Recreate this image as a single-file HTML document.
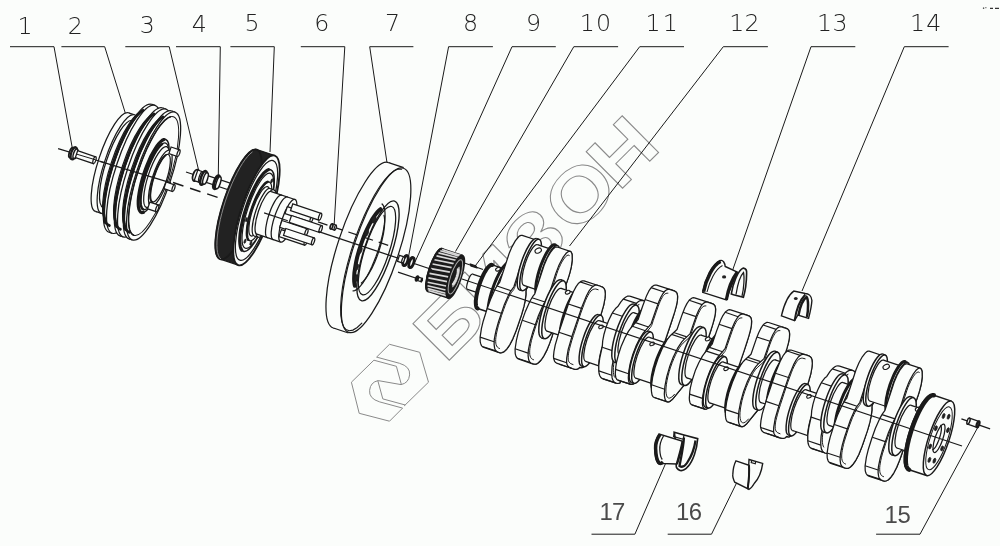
<!DOCTYPE html>
<html><head><meta charset="utf-8"><title>17</title>
<style>
html,body{margin:0;padding:0;background:#fbfdfb;}
body{width:1000px;height:546px;overflow:hidden;position:relative;}
svg{position:absolute;left:0;top:0;display:block;}
text{font-family:"Liberation Sans",sans-serif;}
.lb{font-family:"DejaVu Sans","Liberation Sans",sans-serif;font-weight:200;font-size:23.7px;fill:#222;}
.lb2{font-family:"Liberation Sans",sans-serif;font-size:23.9px;fill:#4a4a4a;}
.wm{font-family:"Liberation Sans",sans-serif;font-weight:bold;fill:none;stroke:#8a8a8a;stroke-width:1;}
</style></head><body>
<svg width="1000" height="546" viewBox="0 0 1000 546" style="opacity:0.999">
<rect width="1000" height="546" fill="#fbfdfb"/>
<text class="wm" transform="translate(449.8,359.7) rotate(-44.8) scale(1.15,1)" x="-5.5 48.4 102.3 152.5 206.6" y="0" font-size="75">БИЗОН</text>
<path d="M376.6 357.1 L389.5 344.3 L419.7 352.3 L428.5 382.2 L404.1 406.0" fill="none" stroke="#8a8a8a" stroke-width="1.0" stroke-linejoin="round"/>
<path d="M402.6 408.1 L389.5 421.2 L359.2 413.3 L351.4 382.2 L373.9 360.2" fill="none" stroke="#8a8a8a" stroke-width="1.0" stroke-linejoin="round"/>
<path d="M376.6 357.1 L399.5 363.3 Q410.5 366.6 409.6 374.9 Q408.7 383.1 401.0 384.6" fill="none" stroke="#8a8a8a" stroke-width="1.0" />
<path d="M373.9 360.2 L396.4 366.3 L401.4 384.6" fill="none" stroke="#8a8a8a" stroke-width="1.0" />
<path d="M402.6 408.1 L379.7 401.9 Q368.7 398.6 369.6 390.3 Q370.5 382.1 378.2 380.6" fill="none" stroke="#8a8a8a" stroke-width="1.0" />
<path d="M405.3 405.0 L382.8 398.9 L377.8 380.6" fill="none" stroke="#8a8a8a" stroke-width="1.0" />
<path d="M401.0 384.6 L378.2 380.6" fill="none" stroke="#8a8a8a" stroke-width="1.0" />
<defs><filter id="gs" x="0" y="0" width="100%" height="100%" filterUnits="userSpaceOnUse" color-interpolation-filters="sRGB"><feColorMatrix type="saturate" values="0"/></filter></defs>
<g filter="url(#gs)">
<text class="lb" x="17.4" y="34">1</text>
<path d="M10 46.7 L54 46.7 L73 152" fill="none" stroke="#1a1a1a" stroke-width="1.0" />
<text class="lb" x="67.8" y="33.5">2</text>
<path d="M61.4 46.7 L104.7 46.7 L125.3 113" fill="none" stroke="#1a1a1a" stroke-width="1.0" />
<text class="lb" x="139.8" y="32.5">3</text>
<path d="M125.3 46.7 L169.2 46.7 L198.8 171" fill="none" stroke="#1a1a1a" stroke-width="1.0" />
<text class="lb" x="191.8" y="31.5">4</text>
<path d="M176 46.7 L220.3 46.7 L218.2 181" fill="none" stroke="#1a1a1a" stroke-width="1.0" />
<text class="lb" x="244.5" y="31.2">5</text>
<path d="M230.4 46.7 L274.3 46.7 L270 152" fill="none" stroke="#1a1a1a" stroke-width="1.0" />
<text class="lb" x="314.2" y="31">6</text>
<path d="M300.8 46.7 L344.8 46.7 L334.2 224" fill="none" stroke="#1a1a1a" stroke-width="1.0" />
<text class="lb" x="385.0" y="30.8">7</text>
<path d="M413.4 46.7 L369.7 46.7 L387.2 164" fill="none" stroke="#1a1a1a" stroke-width="1.0" />
<text class="lb" x="463.0" y="30.8">8</text>
<path d="M492.9 46.7 L448.6 46.7 L407.2 263.6" fill="none" stroke="#1a1a1a" stroke-width="1.0" />
<text class="lb" x="526.0" y="30.8">9</text>
<path d="M555.8 46.7 L512 46.7 L413.8 264.6" fill="none" stroke="#1a1a1a" stroke-width="1.0" />
<text class="lb" x="579.7 595.9" y="30.8">10</text>
<path d="M618.1 46.7 L573.8 46.7 L455.5 251.5" fill="none" stroke="#1a1a1a" stroke-width="1.0" />
<text class="lb" x="645.6 662.7" y="30.8">11</text>
<path d="M684 46.7 L639.7 46.7 L474.7 266.6" fill="none" stroke="#1a1a1a" stroke-width="1.0" />
<text class="lb" x="729.3 744.5" y="31">12</text>
<path d="M767.9 46.7 L723.3 46.7 L569.5 246" fill="none" stroke="#1a1a1a" stroke-width="1.0" />
<text class="lb" x="816.9 832.4" y="31">13</text>
<path d="M855.3 46.7 L811 46.7 L732.5 270.5" fill="none" stroke="#1a1a1a" stroke-width="1.0" />
<text class="lb" x="910.0 926.2" y="31">14</text>
<path d="M948.6 46.7 L904.3 46.7 L802 291" fill="none" stroke="#1a1a1a" stroke-width="1.0" />
<text class="lb2" x="599.5 611.9" y="519.7">17</text>
<path d="M591.5 534.2 L634.9 534.2 L671 451" fill="none" stroke="#1a1a1a" stroke-width="1.0" />
<text class="lb2" x="676.0 688.7" y="519.7">16</text>
<path d="M667.7 534.2 L711.5 534.2 L739 478" fill="none" stroke="#1a1a1a" stroke-width="1.0" />
<text class="lb2" x="884.5 897.6" y="523.3">15</text>
<path d="M876.1 534.2 L920 534.2 L978.5 426" fill="none" stroke="#1a1a1a" stroke-width="1.0" />
</g>
<ellipse cx="112.0" cy="162.1" rx="13.5" ry="52.0" transform="rotate(18.47 112.0 162.1)" fill="#fbfdfb" stroke="#1a1a1a" stroke-width="1.25"/>
<path d="M128.5 112.8 L134.5 114.8 L101.5 213.4 L95.5 211.4 Z" fill="#fbfdfb" stroke="none"/>
<line x1="128.5" y1="112.8" x2="134.5" y2="114.8" stroke="#1a1a1a" stroke-width="1.25" />
<line x1="95.5" y1="211.4" x2="101.5" y2="213.4" stroke="#1a1a1a" stroke-width="1.25" />
<ellipse cx="118.0" cy="164.1" rx="13.5" ry="52.0" transform="rotate(18.47 118.0 164.1)" fill="#fbfdfb" stroke="#1a1a1a" stroke-width="1.25"/>
<ellipse cx="118.0" cy="164.1" rx="12.0" ry="46.0" transform="rotate(18.47 118.0 164.1)" fill="#fbfdfb" stroke="#1a1a1a" stroke-width="1.25"/>
<path d="M132.6 120.5 L140.6 123.1 L111.4 210.4 L103.4 207.7 Z" fill="#fbfdfb" stroke="none"/>
<line x1="132.6" y1="120.5" x2="140.6" y2="123.1" stroke="#1a1a1a" stroke-width="1.25" />
<line x1="103.4" y1="207.7" x2="111.4" y2="210.4" stroke="#1a1a1a" stroke-width="1.25" />
<ellipse cx="126.0" cy="166.8" rx="12.0" ry="46.0" transform="rotate(18.47 126.0 166.8)" fill="#fbfdfb" stroke="#1a1a1a" stroke-width="1.25"/>
<ellipse cx="125.9" cy="166.7" rx="15.1" ry="58.0" transform="rotate(18.47 125.9 166.7)" fill="#fbfdfb" stroke="#1a1a1a" stroke-width="1.25"/>
<path d="M144.2 111.7 L148.8 113.2 L112.0 223.3 L107.5 221.7 Z" fill="#fbfdfb" stroke="none"/>
<line x1="144.2" y1="111.7" x2="148.8" y2="113.2" stroke="#1a1a1a" stroke-width="1.25" />
<line x1="107.5" y1="221.7" x2="112.0" y2="223.3" stroke="#1a1a1a" stroke-width="1.25" />
<ellipse cx="130.4" cy="168.3" rx="17.5" ry="67.4" transform="rotate(18.47 130.4 168.3)" fill="#fbfdfb" stroke="#1a1a1a" stroke-width="1.25"/>
<path d="M151.8 104.3 L155.0 105.4 L112.3 233.3 L109.1 232.2 Z" fill="#fbfdfb" stroke="none"/>
<line x1="151.8" y1="104.3" x2="155.0" y2="105.4" stroke="#1a1a1a" stroke-width="1.25" />
<line x1="109.1" y1="232.2" x2="112.3" y2="233.3" stroke="#1a1a1a" stroke-width="1.25" />
<ellipse cx="133.6" cy="169.3" rx="17.5" ry="67.4" transform="rotate(18.47 133.6 169.3)" fill="#fbfdfb" stroke="#1a1a1a" stroke-width="1.25"/>
<path d="M109.4 225.5 L107.7 224.7 L106.2 223.1 L105.1 220.6 L104.3 217.4 L103.8 213.4 L103.8 208.8 L104.0 203.5 L104.7 197.8 L105.6 191.5 L107.0 184.9 L108.6 178.1 L110.5 171.1 L112.7 164.1 L115.1 157.1 L117.7 150.2 L120.4 143.6 L123.3 137.4 L126.2 131.6 L129.2 126.3 L132.2 121.7 L135.1 117.7 L137.9 114.4 L140.5 112.0 L143.0 110.3" fill="none" stroke="#1a1a1a" stroke-width="2.75" stroke-linecap="round"/>
<path d="M105.2 223.2 L104.6 220.6 L104.2 217.4 L104.0 213.8 L104.0 209.8 L104.3 205.5 L104.8 200.8 L105.5 195.8 L106.5 190.5 L107.6 185.1 L108.9 179.5 L110.5 173.8 L112.2 168.0 L114.0 162.3 L116.0 156.6 L118.1 151.0 L120.3 145.5 L122.7 140.3 L125.0 135.3 L127.4 130.6 L129.8 126.2 L132.3 122.2 L134.7 118.6 L137.0 115.5 L139.3 112.8" fill="none" stroke="#1a1a1a" stroke-width="2.0" stroke-linecap="round"/>
<ellipse cx="136.9" cy="170.4" rx="15.1" ry="58.0" transform="rotate(18.47 136.9 170.4)" fill="#fbfdfb" stroke="#1a1a1a" stroke-width="1.25"/>
<path d="M155.2 115.4 L159.8 116.9 L123.0 226.9 L118.5 225.4 Z" fill="#fbfdfb" stroke="none"/>
<line x1="155.2" y1="115.4" x2="159.8" y2="116.9" stroke="#1a1a1a" stroke-width="1.25" />
<line x1="118.5" y1="225.4" x2="123.0" y2="226.9" stroke="#1a1a1a" stroke-width="1.25" />
<ellipse cx="141.4" cy="171.9" rx="17.5" ry="67.4" transform="rotate(18.47 141.4 171.9)" fill="#fbfdfb" stroke="#1a1a1a" stroke-width="1.25"/>
<path d="M162.8 108.0 L166.0 109.1 L123.3 236.9 L120.1 235.9 Z" fill="#fbfdfb" stroke="none"/>
<line x1="162.8" y1="108.0" x2="166.0" y2="109.1" stroke="#1a1a1a" stroke-width="1.25" />
<line x1="120.1" y1="235.9" x2="123.3" y2="236.9" stroke="#1a1a1a" stroke-width="1.25" />
<ellipse cx="144.6" cy="173.0" rx="17.5" ry="67.4" transform="rotate(18.47 144.6 173.0)" fill="#fbfdfb" stroke="#1a1a1a" stroke-width="1.25"/>
<path d="M120.4 229.2 L118.7 228.4 L117.2 226.8 L116.1 224.3 L115.3 221.1 L114.8 217.1 L114.8 212.5 L115.0 207.2 L115.7 201.4 L116.6 195.2 L118.0 188.6 L119.6 181.8 L121.5 174.8 L123.7 167.7 L126.1 160.7 L128.7 153.9 L131.4 147.3 L134.3 141.1 L137.2 135.3 L140.2 130.0 L143.2 125.4 L146.1 121.4 L148.9 118.1 L151.5 115.7 L154.0 114.0" fill="none" stroke="#1a1a1a" stroke-width="2.75" stroke-linecap="round"/>
<path d="M116.2 226.9 L115.6 224.2 L115.2 221.1 L115.0 217.5 L115.0 213.5 L115.3 209.1 L115.8 204.4 L116.5 199.4 L117.5 194.2 L118.6 188.8 L119.9 183.2 L121.5 177.5 L123.2 171.7 L125.0 166.0 L127.0 160.3 L129.1 154.7 L131.3 149.2 L133.7 144.0 L136.0 139.0 L138.4 134.3 L140.8 129.9 L143.3 125.9 L145.7 122.3 L148.0 119.1 L150.3 116.5" fill="none" stroke="#1a1a1a" stroke-width="2.0" stroke-linecap="round"/>
<ellipse cx="145.9" cy="173.4" rx="15.1" ry="58.0" transform="rotate(18.47 145.9 173.4)" fill="#fbfdfb" stroke="#1a1a1a" stroke-width="1.25"/>
<path d="M164.2 118.4 L168.8 119.9 L132.0 229.9 L127.5 228.4 Z" fill="#fbfdfb" stroke="none"/>
<line x1="164.2" y1="118.4" x2="168.8" y2="119.9" stroke="#1a1a1a" stroke-width="1.25" />
<line x1="127.5" y1="228.4" x2="132.0" y2="229.9" stroke="#1a1a1a" stroke-width="1.25" />
<ellipse cx="150.4" cy="174.9" rx="17.5" ry="67.4" transform="rotate(18.47 150.4 174.9)" fill="#fbfdfb" stroke="#1a1a1a" stroke-width="1.25"/>
<path d="M171.8 111.0 L175.0 112.1 L132.3 239.9 L129.1 238.9 Z" fill="#fbfdfb" stroke="none"/>
<line x1="171.8" y1="111.0" x2="175.0" y2="112.1" stroke="#1a1a1a" stroke-width="1.25" />
<line x1="129.1" y1="238.9" x2="132.3" y2="239.9" stroke="#1a1a1a" stroke-width="1.25" />
<ellipse cx="153.6" cy="176.0" rx="17.5" ry="67.4" transform="rotate(18.47 153.6 176.0)" fill="#fbfdfb" stroke="#1a1a1a" stroke-width="1.25"/>
<path d="M129.4 232.2 L127.7 231.4 L126.2 229.8 L125.1 227.3 L124.3 224.1 L123.8 220.1 L123.8 215.5 L124.0 210.2 L124.7 204.4 L125.6 198.2 L127.0 191.6 L128.6 184.8 L130.5 177.8 L132.7 170.7 L135.1 163.7 L137.7 156.9 L140.4 150.3 L143.3 144.1 L146.2 138.3 L149.2 133.0 L152.2 128.4 L155.1 124.4 L157.9 121.1 L160.5 118.7 L163.0 117.0" fill="none" stroke="#1a1a1a" stroke-width="2.75" stroke-linecap="round"/>
<path d="M125.2 229.9 L124.6 227.2 L124.2 224.1 L124.0 220.5 L124.0 216.5 L124.3 212.2 L124.8 207.5 L125.5 202.5 L126.5 197.2 L127.6 191.8 L128.9 186.2 L130.5 180.5 L132.2 174.7 L134.0 169.0 L136.0 163.3 L138.1 157.7 L140.3 152.2 L142.7 147.0 L145.0 142.0 L147.4 137.3 L149.8 132.9 L152.3 128.9 L154.7 125.3 L157.0 122.2 L159.3 119.5" fill="none" stroke="#1a1a1a" stroke-width="2.0" stroke-linecap="round"/>
<ellipse cx="153.6" cy="176.0" rx="16.2" ry="62.5" transform="rotate(18.47 153.6 176.0)" fill="none" stroke="#1a1a1a" stroke-width="1.0" />
<path d="M133.8 235.3 L132.1 234.2 L130.7 232.2 L129.6 229.4 L128.9 225.7 L128.6 221.3 L128.6 216.2 L129.1 210.5 L129.9 204.3 L131.1 197.6 L132.6 190.6 L134.4 183.4 L136.6 176.0 L139.0 168.7 L141.6 161.5 L144.4 154.5 L147.3 147.8 L150.4 141.6 L153.5 135.8 L156.6 130.7 L159.6 126.3 L162.6 122.7 L165.4 119.8 L168.0 117.8 L170.5 116.7" fill="none" stroke="#1a1a1a" stroke-width="1.5" stroke-linecap="round"/>
<ellipse cx="153.6" cy="176.0" rx="10.0" ry="38.5" transform="rotate(18.47 153.6 176.0)" fill="#fbfdfb" stroke="#1a1a1a" stroke-width="1.5" />
<path d="M143.3 212.5 L141.9 212.6 L140.7 212.1 L139.7 211.0 L138.9 209.2 L138.4 206.9 L138.2 204.1 L138.2 200.8 L138.5 197.1 L139.1 193.0 L139.9 188.6 L140.9 184.0 L142.2 179.2 L143.6 174.4 L145.2 169.7 L147.0 165.0 L148.9 160.5 L150.8 156.3 L152.9 152.5 L154.9 149.0 L156.9 146.0 L158.8 143.5 L160.7 141.6 L162.4 140.2 L164.0 139.5" fill="none" stroke="#1a1a1a" stroke-width="3.12" stroke-linecap="round"/>
<ellipse cx="154.6" cy="176.3" rx="9.1" ry="35.0" transform="rotate(18.47 154.6 176.3)" fill="#fbfdfb" stroke="#1a1a1a" stroke-width="1.25" />
<path d="M143.5 209.5 L142.6 209.0 L141.8 208.0 L141.2 206.5 L140.8 204.7 L140.6 202.5 L140.5 199.9 L140.7 197.0 L141.0 193.8 L141.6 190.4 L142.3 186.8 L143.1 183.1 L144.2 179.3 L145.3 175.4 L146.6 171.5 L148.0 167.7 L149.5 164.0 L151.1 160.5 L152.7 157.2 L154.3 154.2 L155.9 151.4 L157.5 149.0 L159.1 147.0 L160.6 145.4 L162.1 144.1" fill="none" stroke="#1a1a1a" stroke-width="2.5" stroke-linecap="round"/>
<ellipse cx="156.5" cy="177.0" rx="8.3" ry="32.0" transform="rotate(18.47 156.5 177.0)" fill="#fbfdfb" stroke="#1a1a1a" stroke-width="1.25" />
<ellipse cx="160.3" cy="178.2" rx="7.7" ry="29.5" transform="rotate(18.47 160.3 178.2)" fill="#fbfdfb" stroke="#1a1a1a" stroke-width="1.25" />
<ellipse cx="160.3" cy="178.2" rx="6.5" ry="25.0" transform="rotate(18.47 160.3 178.2)" fill="#fbfdfb" stroke="#1a1a1a" stroke-width="1.25" />
<path d="M152.4 201.9 L151.7 201.5 L151.1 200.8 L150.7 199.8 L150.4 198.5 L150.3 196.9 L150.2 195.1 L150.4 193.0 L150.6 190.7 L151.0 188.3 L151.5 185.7 L152.1 183.1 L152.8 180.3 L153.7 177.6 L154.6 174.8 L155.6 172.1 L156.6 169.5 L157.8 166.9 L158.9 164.6 L160.1 162.4 L161.2 160.5 L162.4 158.7 L163.5 157.3 L164.6 156.1 L165.6 155.2" fill="none" stroke="#1a1a1a" stroke-width="2.0" stroke-linecap="round"/>
<path d="M171.1 147.0 L179.6 149.8 L177.4 156.5 L168.9 153.6 Z" fill="#fbfdfb" stroke="#1a1a1a" stroke-width="1.25" />
<ellipse cx="178.5" cy="153.2" rx="1.2" ry="3.5" transform="rotate(18.47 178.5 153.2)" fill="#fbfdfb" stroke="#1a1a1a" stroke-width="1.25" />
<path d="M166.1 182.0 L174.6 184.8 L172.4 191.5 L163.9 188.6 Z" fill="#fbfdfb" stroke="#1a1a1a" stroke-width="1.25" />
<ellipse cx="173.5" cy="188.1" rx="1.2" ry="3.5" transform="rotate(18.47 173.5 188.1)" fill="#fbfdfb" stroke="#1a1a1a" stroke-width="1.25" />
<path d="M149.8 202.2 L158.3 205.0 L156.1 211.7 L147.6 208.8 Z" fill="#fbfdfb" stroke="#1a1a1a" stroke-width="1.25" />
<ellipse cx="157.2" cy="208.4" rx="1.2" ry="3.5" transform="rotate(18.47 157.2 208.4)" fill="#fbfdfb" stroke="#1a1a1a" stroke-width="1.25" />
<line x1="58.1" y1="148.6" x2="104.0" y2="162.5" stroke="#1a1a1a" stroke-width="1.25" />
<line x1="173.0" y1="182.5" x2="232.0" y2="202.2" stroke="#1a1a1a" stroke-width="1.5" stroke-dasharray="11 7"/>
<line x1="186.0" y1="172.0" x2="232.0" y2="187.4" stroke="#1a1a1a" stroke-width="1.25" />
<ellipse cx="361.0" cy="245.3" rx="22.7" ry="87.2" transform="rotate(18.47 361.0 245.3)" fill="#fbfdfb" stroke="#1a1a1a" stroke-width="1.25"/>
<path d="M388.6 162.6 L403.7 167.6 L348.5 333.0 L333.4 328.0 Z" fill="#fbfdfb" stroke="none"/>
<line x1="388.6" y1="162.6" x2="403.7" y2="167.6" stroke="#1a1a1a" stroke-width="1.25" />
<line x1="333.4" y1="328.0" x2="348.5" y2="333.0" stroke="#1a1a1a" stroke-width="1.25" />
<ellipse cx="376.1" cy="250.3" rx="22.5" ry="86.5" transform="rotate(18.47 376.1 250.3)" fill="#fbfdfb" stroke="#1a1a1a" stroke-width="1.25" />
<path d="M361.8 323.2 L357.2 327.5 L352.9 330.1 L349.2 330.7 L346.0 329.5 L343.5 326.5 L341.8 321.6 L340.8 315.1 L340.6 307.1 L341.2 297.7 L342.5 287.3 L344.6 275.9 L347.5 263.9 L350.9 251.7 L354.9 239.3 L359.4 227.2 L364.2 215.7 L369.3 204.9 L374.4 195.2 L379.6 186.8 L384.7 179.8 L389.6 174.4 L394.1 170.8 L398.1 169.1 L401.6 169.2" fill="none" stroke="#1a1a1a" stroke-width="1.12" stroke-linecap="round"/>
<ellipse cx="378.0" cy="250.9" rx="13.7" ry="52.5" transform="rotate(18.47 378.0 250.9)" fill="#fbfdfb" stroke="#1a1a1a" stroke-width="1.38" />
<ellipse cx="377.0" cy="250.6" rx="12.1" ry="46.5" transform="rotate(18.47 377.0 250.6)" fill="none" stroke="#1a1a1a" stroke-width="1.25" />
<path d="M382.1 204.0 L383.2 205.3 L384.1 207.2 L384.7 209.7 L385.0 212.8 L385.1 216.4 L384.8 220.5 L384.3 224.9 L383.5 229.8 L382.5 234.9 L381.2 240.1 L379.7 245.5 L378.0 250.9 L376.1 256.3 L374.0 261.5 L371.9 266.5 L369.7 271.2 L367.4 275.5 L365.1 279.4 L362.9 282.8 L360.7 285.7 L358.6 288.0 L356.6 289.6 L354.7 290.6 L353.1 290.9" fill="none" stroke="#1a1a1a" stroke-width="1.25" stroke-linecap="round"/>
<path d="M354.9 285.8 L354.5 283.9 L354.2 281.6 L354.1 278.9 L354.2 276.0 L354.4 272.7 L354.9 269.2 L355.5 265.5 L356.2 261.6 L357.1 257.6 L358.2 253.5 L359.4 249.3 L360.8 245.2 L362.2 241.1 L363.7 237.0 L365.3 233.1 L367.0 229.3 L368.7 225.8 L370.5 222.4 L372.2 219.4 L374.0 216.6 L375.7 214.2 L377.4 212.2 L379.0 210.5 L380.5 209.2" fill="none" stroke="#1a1a1a" stroke-width="4.0" stroke-linecap="round"/>
<path d="M384.0 215.3 L384.4 217.0 L384.6 219.1 L384.7 221.4 L384.6 224.0 L384.4 226.9 L384.0 230.0 L383.5 233.3 L382.8 236.7 L382.0 240.2 L381.1 243.9 L380.0 247.5 L378.8 251.2 L377.6 254.9 L376.2 258.4 L374.8 261.9 L373.3 265.2 L371.8 268.4 L370.2 271.3 L368.7 274.0 L367.1 276.5 L365.6 278.6 L364.1 280.4 L362.7 281.9 L361.4 283.0" fill="none" stroke="#1a1a1a" stroke-width="1.25" stroke-linecap="round"/>
<ellipse cx="356.3" cy="278.1" rx="2.0" ry="3.6" transform="rotate(18.47 356.3 278.1)" fill="#222" stroke="#1a1a1a" stroke-width="0.62" />
<ellipse cx="356.4" cy="267.1" rx="2.0" ry="3.6" transform="rotate(18.47 356.4 267.1)" fill="#222" stroke="#1a1a1a" stroke-width="0.62" />
<ellipse cx="360.0" cy="250.2" rx="2.0" ry="3.6" transform="rotate(18.47 360.0 250.2)" fill="#222" stroke="#1a1a1a" stroke-width="0.62" />
<ellipse cx="366.4" cy="232.9" rx="2.0" ry="3.6" transform="rotate(18.47 366.4 232.9)" fill="#222" stroke="#1a1a1a" stroke-width="0.62" />
<ellipse cx="373.9" cy="219.7" rx="2.0" ry="3.6" transform="rotate(18.47 373.9 219.7)" fill="#222" stroke="#1a1a1a" stroke-width="0.62" />
<ellipse cx="71.5" cy="152.6" rx="2.1" ry="5.2" transform="rotate(18.47 71.5 152.6)" fill="#fbfdfb" stroke="#1a1a1a" stroke-width="1.88" />
<ellipse cx="73.7" cy="153.3" rx="2.5" ry="6.3" transform="rotate(18.47 73.7 153.3)" fill="#fbfdfb" stroke="#1a1a1a" stroke-width="2.25" />
<ellipse cx="75.5" cy="153.8" rx="2.0" ry="5.0" transform="rotate(18.47 75.5 153.8)" fill="#fbfdfb" stroke="#1a1a1a" stroke-width="1.5" />
<path d="M77.6 150.7 L95.7 156.8 L93.4 163.6 L75.4 157.6 Z" fill="#fbfdfb" stroke="#1a1a1a" stroke-width="1.25" />
<ellipse cx="94.5" cy="160.2" rx="1.3" ry="3.6" transform="rotate(18.47 94.5 160.2)" fill="#fbfdfb" stroke="#1a1a1a" stroke-width="1.25" />
<line x1="76.5" y1="154.1" x2="95.5" y2="159.8" stroke="#1a1a1a" stroke-width="1.0" />
<path d="M206.1 175.1 L232.6 184.0 L230.5 190.5 L203.9 181.6 Z" fill="#fbfdfb" stroke="#1a1a1a" stroke-width="1.25" />
<ellipse cx="231.6" cy="187.2" rx="1.2" ry="3.4" transform="rotate(18.47 231.6 187.2)" fill="#fbfdfb" stroke="#1a1a1a" stroke-width="1.25" />
<ellipse cx="196.0" cy="175.4" rx="3.0" ry="6.0" transform="rotate(18.47 196.0 175.4)" fill="#fbfdfb" stroke="#1a1a1a" stroke-width="1.88" />
<path d="M197.8 170.0 L203.0 171.8 L199.4 182.4 L194.2 180.7 Z" fill="#fbfdfb" stroke="#1a1a1a" stroke-width="1.25" />
<ellipse cx="201.2" cy="177.1" rx="2.0" ry="5.6" transform="rotate(18.47 201.2 177.1)" fill="#fbfdfb" stroke="#1a1a1a" stroke-width="1.25" />
<ellipse cx="203.5" cy="177.9" rx="2.5" ry="7.2" transform="rotate(18.47 203.5 177.9)" fill="#fbfdfb" stroke="#1a1a1a" stroke-width="2.5" />
<ellipse cx="205.5" cy="178.5" rx="2.1" ry="6.0" transform="rotate(18.47 205.5 178.5)" fill="#fbfdfb" stroke="#1a1a1a" stroke-width="1.5" />
<ellipse cx="216.5" cy="182.2" rx="2.2" ry="6.8" transform="rotate(18.47 216.5 182.2)" fill="#fbfdfb" stroke="#1a1a1a" stroke-width="3.0" />
<ellipse cx="218.3" cy="182.8" rx="2.0" ry="6.3" transform="rotate(18.47 218.3 182.8)" fill="#fbfdfb" stroke="#1a1a1a" stroke-width="1.5" />
<ellipse cx="238.5" cy="204.4" rx="15.0" ry="57.7" transform="rotate(18.47 238.5 204.4)" fill="#222" stroke="#1a1a1a" stroke-width="1.25"/>
<path d="M256.8 149.6 L274.8 155.6 L238.2 265.1 L220.2 259.1 Z" fill="#222" stroke="none"/>
<line x1="256.8" y1="149.6" x2="274.8" y2="155.6" stroke="#1a1a1a" stroke-width="1.25" />
<line x1="220.2" y1="259.1" x2="238.2" y2="265.1" stroke="#1a1a1a" stroke-width="1.25" />
<ellipse cx="238.5" cy="204.4" rx="15.0" ry="57.7" transform="rotate(18.47 238.5 204.4)" fill="#222" stroke="#1a1a1a" stroke-width="1.88" />
<path d="M220.6 258.7 L219.3 257.2 L218.3 255.2 L217.5 252.5 L217.1 249.2 L216.9 245.3 L217.0 240.9 L217.4 236.0 L218.1 230.8 L219.1 225.2 L220.3 219.4 L221.8 213.4 L223.5 207.2 L225.4 201.1 L227.5 195.0 L229.8 189.0 L232.2 183.2 L234.7 177.7 L237.3 172.5 L239.8 167.8 L242.4 163.5 L245.0 159.7 L247.5 156.6 L249.9 154.0 L252.2 152.1" fill="none" stroke="#888" stroke-width="1.0" stroke-linecap="round"/>
<ellipse cx="256.5" cy="210.4" rx="15.0" ry="57.7" transform="rotate(18.47 256.5 210.4)" fill="#fbfdfb" stroke="#1a1a1a" stroke-width="1.88" />
<ellipse cx="256.5" cy="210.4" rx="13.7" ry="52.5" transform="rotate(18.47 256.5 210.4)" fill="none" stroke="#1a1a1a" stroke-width="1.25" />
<ellipse cx="257.0" cy="210.5" rx="11.2" ry="43.0" transform="rotate(18.47 257.0 210.5)" fill="#fbfdfb" stroke="#1a1a1a" stroke-width="1.5" />
<path d="M241.7 250.1 L240.9 248.6 L240.3 246.6 L239.9 244.1 L239.7 241.1 L239.8 237.8 L240.1 234.0 L240.6 230.0 L241.4 225.7 L242.4 221.1 L243.5 216.5 L244.9 211.7 L246.4 207.0 L248.0 202.3 L249.8 197.7 L251.7 193.2 L253.6 189.1 L255.6 185.2 L257.6 181.6 L259.6 178.4 L261.6 175.7 L263.5 173.4 L265.3 171.7 L267.0 170.4 L268.5 169.7" fill="none" stroke="#1a1a1a" stroke-width="3.12" stroke-linecap="round"/>
<ellipse cx="257.9" cy="210.8" rx="10.3" ry="39.5" transform="rotate(18.47 257.9 210.8)" fill="#fbfdfb" stroke="#1a1a1a" stroke-width="1.25" />
<ellipse cx="259.3" cy="211.3" rx="8.1" ry="31.0" transform="rotate(18.47 259.3 211.3)" fill="#fbfdfb" stroke="#1a1a1a" stroke-width="1.25" />
<path d="M248.3 239.8 L247.7 238.8 L247.3 237.3 L247.0 235.5 L246.9 233.4 L247.0 231.0 L247.2 228.3 L247.6 225.3 L248.1 222.2 L248.8 219.0 L249.6 215.6 L250.6 212.2 L251.7 208.8 L252.9 205.4 L254.2 202.1 L255.5 198.9 L256.9 195.8 L258.4 193.0 L259.8 190.5 L261.2 188.2 L262.7 186.2 L264.0 184.6 L265.3 183.3 L266.6 182.4 L267.7 181.9" fill="none" stroke="#1a1a1a" stroke-width="2.5" stroke-linecap="round"/>
<ellipse cx="259.3" cy="211.3" rx="6.8" ry="26.0" transform="rotate(18.47 259.3 211.3)" fill="#fbfdfb" stroke="#1a1a1a" stroke-width="1.25" />
<ellipse cx="271.8" cy="180.8" rx="0.9" ry="2.2" transform="rotate(18.47 271.8 180.8)" fill="#222" stroke="#1a1a1a" stroke-width="0.62" />
<ellipse cx="245.0" cy="241.2" rx="0.9" ry="2.2" transform="rotate(18.47 245.0 241.2)" fill="#222" stroke="#1a1a1a" stroke-width="0.62" />
<ellipse cx="250.9" cy="243.2" rx="0.9" ry="2.2" transform="rotate(18.47 250.9 243.2)" fill="#222" stroke="#1a1a1a" stroke-width="0.62" />
<ellipse cx="246.5" cy="219.6" rx="0.9" ry="2.2" transform="rotate(18.47 246.5 219.6)" fill="#222" stroke="#1a1a1a" stroke-width="0.62" />
<ellipse cx="262.2" cy="212.3" rx="6.5" ry="25.0" transform="rotate(18.47 262.2 212.3)" fill="#fbfdfb" stroke="#1a1a1a" stroke-width="1.25"/>
<path d="M270.1 188.6 L273.9 189.8 L258.1 237.2 L254.3 236.0 Z" fill="#fbfdfb" stroke="none"/>
<line x1="270.1" y1="188.6" x2="273.9" y2="189.8" stroke="#1a1a1a" stroke-width="1.25" />
<line x1="254.3" y1="236.0" x2="258.1" y2="237.2" stroke="#1a1a1a" stroke-width="1.25" />
<ellipse cx="266.0" cy="213.5" rx="6.5" ry="25.0" transform="rotate(18.47 266.0 213.5)" fill="#fbfdfb" stroke="#1a1a1a" stroke-width="1.25"/>
<ellipse cx="264.1" cy="212.9" rx="5.9" ry="22.5" transform="rotate(18.47 264.1 212.9)" fill="#fbfdfb" stroke="#1a1a1a" stroke-width="1.25"/>
<path d="M271.2 191.6 L294.9 199.5 L280.7 242.2 L257.0 234.2 Z" fill="#fbfdfb" stroke="none"/>
<line x1="271.2" y1="191.6" x2="294.9" y2="199.5" stroke="#1a1a1a" stroke-width="1.25" />
<line x1="257.0" y1="234.2" x2="280.7" y2="242.2" stroke="#1a1a1a" stroke-width="1.25" />
<ellipse cx="287.8" cy="220.8" rx="5.9" ry="22.5" transform="rotate(18.47 287.8 220.8)" fill="#fbfdfb" stroke="#1a1a1a" stroke-width="1.25"/>
<path d="M267.4 237.7 L266.7 237.3 L266.2 236.5 L265.8 235.4 L265.6 233.9 L265.5 232.2 L265.6 230.2 L265.8 227.9 L266.2 225.5 L266.7 222.8 L267.3 220.1 L268.1 217.3 L269.0 214.5 L270.0 211.8 L271.0 209.1 L272.1 206.5 L273.3 204.1 L274.5 201.9 L275.6 200.0 L276.8 198.3 L277.9 197.0 L279.0 196.0 L280.0 195.3 L280.9 195.0 L281.6 195.0" fill="none" stroke="#1a1a1a" stroke-width="1.25" stroke-linecap="round"/>
<path d="M273.1 239.6 L272.4 239.2 L271.9 238.4 L271.5 237.3 L271.3 235.8 L271.2 234.1 L271.2 232.1 L271.5 229.8 L271.8 227.4 L272.4 224.7 L273.0 222.0 L273.8 219.2 L274.7 216.4 L275.6 213.7 L276.7 211.0 L277.8 208.4 L279.0 206.0 L280.1 203.8 L281.3 201.9 L282.5 200.2 L283.6 198.9 L284.7 197.9 L285.7 197.2 L286.6 196.9 L287.3 196.9" fill="none" stroke="#1a1a1a" stroke-width="1.25" stroke-linecap="round"/>
<line x1="264.1" y1="212.9" x2="287.8" y2="220.8" stroke="#1a1a1a" stroke-width="1.12" />
<path d="M281.3 229.7 L306.9 238.3 L304.6 245.1 L279.0 236.5 Z" fill="#fbfdfb" stroke="#1a1a1a" stroke-width="1.25" />
<ellipse cx="305.8" cy="241.7" rx="1.3" ry="3.6" transform="rotate(18.47 305.8 241.7)" fill="#fbfdfb" stroke="#1a1a1a" stroke-width="1.25" />
<path d="M281.9 220.5 L307.6 229.0 L305.3 235.9 L279.7 227.3 Z" fill="#fbfdfb" stroke="#1a1a1a" stroke-width="1.25" />
<ellipse cx="306.4" cy="232.4" rx="1.3" ry="3.6" transform="rotate(18.47 306.4 232.4)" fill="#fbfdfb" stroke="#1a1a1a" stroke-width="1.25" />
<path d="M287.3 206.7 L312.9 215.2 L310.6 222.1 L285.0 213.5 Z" fill="#fbfdfb" stroke="#1a1a1a" stroke-width="1.25" />
<ellipse cx="311.7" cy="218.6" rx="1.3" ry="3.6" transform="rotate(18.47 311.7 218.6)" fill="#fbfdfb" stroke="#1a1a1a" stroke-width="1.25" />
<path d="M292.8 203.8 L321.2 213.3 L318.9 220.2 L290.5 210.7 Z" fill="#fbfdfb" stroke="#1a1a1a" stroke-width="1.25" />
<ellipse cx="320.1" cy="216.7" rx="1.3" ry="3.6" transform="rotate(18.47 320.1 216.7)" fill="#fbfdfb" stroke="#1a1a1a" stroke-width="1.25" />
<path d="M291.5 215.5 L321.9 225.7 L319.6 232.5 L289.2 222.3 Z" fill="#fbfdfb" stroke="#1a1a1a" stroke-width="1.25" />
<ellipse cx="320.7" cy="229.1" rx="1.3" ry="3.6" transform="rotate(18.47 320.7 229.1)" fill="#fbfdfb" stroke="#1a1a1a" stroke-width="1.25" />
<path d="M285.8 228.5 L314.2 238.0 L312.0 244.8 L283.5 235.3 Z" fill="#fbfdfb" stroke="#1a1a1a" stroke-width="1.25" />
<ellipse cx="313.1" cy="241.4" rx="1.3" ry="3.6" transform="rotate(18.47 313.1 241.4)" fill="#fbfdfb" stroke="#1a1a1a" stroke-width="1.25" />
<ellipse cx="434.9" cy="270.0" rx="5.9" ry="22.6" transform="rotate(18.47 434.9 270.0)" fill="#1c1c1c" stroke="#1a1a1a" stroke-width="1.25"/>
<path d="M442.1 248.5 L462.6 255.4 L448.2 298.2 L427.7 291.4 Z" fill="#1c1c1c" stroke="none"/>
<line x1="442.1" y1="248.5" x2="462.6" y2="255.4" stroke="#1a1a1a" stroke-width="1.25" />
<line x1="427.7" y1="291.4" x2="448.2" y2="298.2" stroke="#1a1a1a" stroke-width="1.25" />
<ellipse cx="434.9" cy="270.0" rx="5.9" ry="22.6" transform="rotate(18.47 434.9 270.0)" fill="#1c1c1c" stroke="#1a1a1a" stroke-width="1.5" />
<line x1="428.4" y1="290.5" x2="446.1" y2="295.6" stroke="#d8d8d8" stroke-width="1.62" />
<line x1="427.7" y1="288.6" x2="445.7" y2="293.2" stroke="#d8d8d8" stroke-width="1.62" />
<line x1="427.5" y1="285.8" x2="445.7" y2="290.0" stroke="#d8d8d8" stroke-width="1.62" />
<line x1="427.7" y1="282.2" x2="446.2" y2="286.0" stroke="#d8d8d8" stroke-width="1.62" />
<line x1="428.4" y1="277.9" x2="447.1" y2="281.6" stroke="#d8d8d8" stroke-width="1.62" />
<line x1="429.5" y1="273.4" x2="448.3" y2="276.9" stroke="#d8d8d8" stroke-width="1.62" />
<line x1="430.9" y1="268.6" x2="449.9" y2="272.1" stroke="#d8d8d8" stroke-width="1.62" />
<line x1="432.6" y1="264.0" x2="451.7" y2="267.6" stroke="#d8d8d8" stroke-width="1.62" />
<line x1="434.5" y1="259.7" x2="453.7" y2="263.6" stroke="#d8d8d8" stroke-width="1.62" />
<line x1="436.5" y1="255.9" x2="455.7" y2="260.2" stroke="#d8d8d8" stroke-width="1.62" />
<line x1="438.5" y1="252.9" x2="457.6" y2="257.7" stroke="#d8d8d8" stroke-width="1.62" />
<line x1="440.3" y1="250.7" x2="459.4" y2="256.1" stroke="#d8d8d8" stroke-width="1.62" />
<line x1="442.0" y1="249.6" x2="460.9" y2="255.5" stroke="#d8d8d8" stroke-width="1.62" />
<ellipse cx="455.4" cy="276.8" rx="5.9" ry="22.6" transform="rotate(18.47 455.4 276.8)" fill="#1c1c1c" stroke="#1a1a1a" stroke-width="1.5" />
<ellipse cx="455.4" cy="276.8" rx="4.7" ry="18.0" transform="rotate(18.47 455.4 276.8)" fill="none" stroke="#aaa" stroke-width="1.0" />
<ellipse cx="455.9" cy="277.0" rx="3.0" ry="11.5" transform="rotate(18.47 455.9 277.0)" fill="#999" stroke="#1a1a1a" stroke-width="1.0" />
<ellipse cx="454.5" cy="276.5" rx="2.3" ry="9.0" transform="rotate(18.47 454.5 276.5)" fill="#1c1c1c" stroke="#1a1a1a" stroke-width="0.62" />
<path d="M458.0 269.5 L458.1 269.9 L458.1 270.4 L458.0 271.0 L458.0 271.6 L457.9 272.2 L457.8 272.9 L457.7 273.5 L457.5 274.3 L457.3 275.0 L457.1 275.7 L456.9 276.5 L456.7 277.2 L456.4 278.0 L456.1 278.7 L455.9 279.4 L455.6 280.1 L455.3 280.8 L454.9 281.4 L454.6 282.0 L454.3 282.5 L454.0 283.0 L453.7 283.5 L453.4 283.9 L453.1 284.2" fill="none" stroke="#ddd" stroke-width="2.5" stroke-linecap="round"/>
<line x1="318.0" y1="221.9" x2="392.0" y2="246.6" stroke="#1a1a1a" stroke-width="1.25" stroke-dasharray="10 6"/>
<path d="M332.3 223.9 L336.1 225.2 L334.5 230.1 L330.7 228.9 Z" fill="#fbfdfb" stroke="#1a1a1a" stroke-width="1.25" />
<ellipse cx="335.3" cy="227.7" rx="0.9" ry="2.6" transform="rotate(18.47 335.3 227.7)" fill="#fbfdfb" stroke="#1a1a1a" stroke-width="1.25" />
<ellipse cx="331.5" cy="226.4" rx="1.2" ry="2.6" transform="rotate(18.47 331.5 226.4)" fill="#fbfdfb" stroke="#1a1a1a" stroke-width="1.75" />
<line x1="318.0" y1="231.4" x2="432.0" y2="269.5" stroke="#1a1a1a" stroke-width="1.25" />
<line x1="398.0" y1="272.1" x2="423.0" y2="280.5" stroke="#1a1a1a" stroke-width="1.25" />
<path d="M417.6 276.8 L422.3 278.3 L421.2 281.8 L416.4 280.2 Z" fill="#fbfdfb" stroke="#1a1a1a" stroke-width="1.25" />
<ellipse cx="421.7" cy="280.1" rx="0.6" ry="1.8" transform="rotate(18.47 421.7 280.1)" fill="#fbfdfb" stroke="#1a1a1a" stroke-width="1.25" />
<ellipse cx="417.0" cy="278.5" rx="1.1" ry="2.4" transform="rotate(18.47 417.0 278.5)" fill="#222" stroke="#1a1a1a" stroke-width="2.0" />
<ellipse cx="405.5" cy="260.6" rx="2.2" ry="5.3" transform="rotate(18.47 405.5 260.6)" fill="#fbfdfb" stroke="#1a1a1a" stroke-width="2.75" />
<ellipse cx="411.5" cy="262.6" rx="2.2" ry="5.3" transform="rotate(18.47 411.5 262.6)" fill="#fbfdfb" stroke="#1a1a1a" stroke-width="2.75" />
<path d="M399.5 255.3 L404.3 256.8 L402.2 262.9 L397.5 261.3 Z" fill="#fbfdfb" stroke="#1a1a1a" stroke-width="1.25" />
<ellipse cx="403.2" cy="259.9" rx="1.1" ry="3.2" transform="rotate(18.47 403.2 259.9)" fill="#fbfdfb" stroke="#1a1a1a" stroke-width="1.25" />
<line x1="100.0" y1="161.4" x2="171.0" y2="182.8" stroke="#1a1a1a" stroke-width="1.38" />
<ellipse cx="470.0" cy="281.7" rx="2.1" ry="8.0" transform="rotate(18.47 470.0 281.7)" fill="#fbfdfb" stroke="#1a1a1a" stroke-width="1.25"/>
<path d="M472.5 274.1 L488.5 279.4 L483.5 294.6 L467.5 289.3 Z" fill="#fbfdfb" stroke="none"/>
<line x1="472.5" y1="274.1" x2="488.5" y2="279.4" stroke="#1a1a1a" stroke-width="1.25" />
<line x1="467.5" y1="289.3" x2="483.5" y2="294.6" stroke="#1a1a1a" stroke-width="1.25" />
<ellipse cx="486.0" cy="287.0" rx="2.1" ry="8.0" transform="rotate(18.47 486.0 287.0)" fill="#fbfdfb" stroke="#1a1a1a" stroke-width="1.25"/>
<ellipse cx="485.0" cy="286.7" rx="6.0" ry="23.0" transform="rotate(18.47 485.0 286.7)" fill="#fbfdfb" stroke="#1a1a1a" stroke-width="1.38"/>
<path d="M492.3 264.9 L510.3 270.9 L495.7 314.5 L477.7 308.5 Z" fill="#fbfdfb" stroke="none"/>
<line x1="492.3" y1="264.9" x2="510.3" y2="270.9" stroke="#1a1a1a" stroke-width="1.38" />
<line x1="477.7" y1="308.5" x2="495.7" y2="314.5" stroke="#1a1a1a" stroke-width="1.38" />
<ellipse cx="503.0" cy="292.7" rx="6.0" ry="23.0" transform="rotate(18.47 503.0 292.7)" fill="#fbfdfb" stroke="#1a1a1a" stroke-width="1.38"/>
<path d="M477.7 308.5 L477.0 308.1 L476.5 307.3 L476.1 306.1 L475.9 304.6 L475.8 302.8 L475.8 300.8 L476.1 298.5 L476.4 296.0 L477.0 293.3 L477.6 290.5 L478.4 287.7 L479.3 284.8 L480.3 282.0 L481.4 279.2 L482.5 276.6 L483.7 274.1 L484.9 271.9 L486.1 269.9 L487.3 268.2 L488.5 266.8 L489.6 265.8 L490.6 265.1 L491.5 264.8 L492.3 264.9" fill="none" stroke="#1a1a1a" stroke-width="4.0" stroke-linecap="round"/>
<ellipse cx="498.0" cy="269.2" rx="2.5" ry="1.7" transform="rotate(-25 498.0 269.2)" fill="#fbfdfb" stroke="#1a1a1a" stroke-width="1.1"/>
<ellipse cx="500.0" cy="291.7" rx="7.9" ry="30.5" transform="rotate(18.47 500.0 291.7)" fill="#fbfdfb" stroke="#1a1a1a" stroke-width="1.5"/>
<path d="M509.7 262.8 L512.7 263.8 L493.3 321.6 L490.3 320.6 Z" fill="#fbfdfb" stroke="none"/>
<line x1="509.7" y1="262.8" x2="512.7" y2="263.8" stroke="#1a1a1a" stroke-width="1.5" />
<line x1="490.3" y1="320.6" x2="493.3" y2="321.6" stroke="#1a1a1a" stroke-width="1.5" />
<ellipse cx="503.0" cy="292.7" rx="7.9" ry="30.5" transform="rotate(18.47 503.0 292.7)" fill="#fbfdfb" stroke="#1a1a1a" stroke-width="1.5"/>
<path d="M490.3 320.6 L489.4 320.0 L488.7 319.0 L488.2 317.5 L487.9 315.5 L487.8 313.1 L487.8 310.4 L488.2 307.3 L488.7 304.0 L489.4 300.4 L490.2 296.8 L491.3 293.0 L492.5 289.2 L493.8 285.4 L495.2 281.8 L496.7 278.3 L498.3 275.1 L499.9 272.1 L501.5 269.5 L503.1 267.2 L504.6 265.4 L506.0 264.0 L507.4 263.1 L508.6 262.7 L509.7 262.8" fill="none" stroke="#1a1a1a" stroke-width="3.0" stroke-linecap="round"/>
<path d="M483.2 321.2 L481.4 328.6 L480.1 337.3 L480.2 341.7 L480.6 343.4 L481.1 344.9 L481.9 346.1 L482.9 347.0 L484.6 347.7 L498.6 352.4 L500.4 352.8 L501.8 352.7 L503.1 352.2 L504.4 351.4 L505.8 350.2 L508.5 346.8 L512.7 339.1 L517.2 327.7 L522.8 310.6 L525.3 300.0 L526.0 294.5 L525.9 290.8 L534.4 266.3 L536.6 258.7 L537.4 255.1 L538.3 248.6 L538.2 243.6 L537.7 241.8 L537.1 240.6 L536.2 240.0 L522.2 235.3 L521.1 235.3 L519.8 235.8 L518.4 237.0 L515.3 240.9 L512.1 246.6 L509.1 253.6 L499.8 282.1 L497.6 285.0 L494.8 289.8 L490.4 299.7 L486.6 310.4 L483.2 321.2 Z" fill="#fbfdfb" stroke="#1a1a1a" stroke-width="1.25" stroke-linejoin="round"/>
<path d="M513.9 286.8 L510.2 291.9 L508.8 294.5 L504.4 304.4 L498.6 321.5 L496.2 329.8 L494.8 336.5 L494.3 339.4 L494.1 344.3 L494.6 348.1 L495.1 349.6 L495.9 350.7 L496.9 351.6 L498.6 352.4 L500.4 352.8 L501.8 352.7 L503.1 352.2 L504.4 351.4 L507.1 348.7 L509.9 344.6 L512.7 339.1 L515.6 332.1 L521.5 315.0 L523.9 306.7 L525.3 300.0 L525.9 294.5 L525.9 290.8 L534.4 266.3 L535.6 262.5 L537.4 255.1 L538.2 248.6 L538.1 243.6 L537.7 241.8 L537.1 240.6 L536.2 240.0 L535.1 240.0 L533.8 240.5 L532.4 241.7 L529.4 245.6 L526.2 251.3 L524.6 254.7 L521.8 262.1 L513.9 286.8 Z" fill="#fbfdfb" stroke="#1a1a1a" stroke-width="1.25" stroke-linejoin="round"/>
<path d="M512.5 291.1 L511.3 292.7 L510.2 294.5 L509.0 296.7 L507.8 299.2 L506.5 302.1 L505.2 305.4 L503.7 309.4 L501.6 315.4 L499.7 321.5 L498.4 325.6 L497.5 329.1 L496.8 332.1 L496.3 334.8 L495.9 337.3 L495.7 339.5 L495.7 341.4 L495.8 343.2 L496.1 344.7 L496.6 346.0 L497.3 347.0 L498.3 347.9 L499.9 348.6" fill="none" stroke="#1a1a1a" stroke-width="1.0" />
<path d="M535.6 244.3 L534.9 243.8 L534.0 243.8 L532.9 244.2 L531.7 245.2 L530.5 246.6 L529.2 248.5 L527.8 250.8 L526.5 253.3 L525.2 256.2 L523.9 259.2 L522.8 262.5 L514.9 286.9 L514.8 287.3 L514.6 287.7 L514.5 288.0 L514.4 288.4 L514.2 288.7 L514.1 289.0 L513.9 289.3 L513.7 289.5 L513.6 289.8 L513.4 290.0 L513.3 290.2 L512.5 291.1" fill="none" stroke="#1a1a1a" stroke-width="1.0" />
<line x1="480.1" y1="337.1" x2="494.1" y2="341.8" stroke="#1a1a1a" stroke-width="1.12" />
<line x1="487.3" y1="308.6" x2="501.3" y2="313.3" stroke="#1a1a1a" stroke-width="1.12" />
<line x1="497.0" y1="286.0" x2="511.0" y2="290.7" stroke="#1a1a1a" stroke-width="1.12" />
<line x1="482.4" y1="346.5" x2="496.4" y2="351.1" stroke="#1a1a1a" stroke-width="1.12" />
<ellipse cx="528.1" cy="264.2" rx="7.0" ry="27.0" transform="rotate(18.47 528.1 264.2)" fill="#fbfdfb" stroke="#1a1a1a" stroke-width="1.5"/>
<path d="M536.6 238.6 L539.1 239.4 L522.0 290.6 L519.5 289.8 Z" fill="#fbfdfb" stroke="none"/>
<line x1="536.6" y1="238.6" x2="539.1" y2="239.4" stroke="#1a1a1a" stroke-width="1.5" />
<line x1="519.5" y1="289.8" x2="522.0" y2="290.6" stroke="#1a1a1a" stroke-width="1.5" />
<ellipse cx="530.6" cy="265.0" rx="7.0" ry="27.0" transform="rotate(18.47 530.6 265.0)" fill="#fbfdfb" stroke="#1a1a1a" stroke-width="1.5"/>
<ellipse cx="530.6" cy="265.0" rx="5.6" ry="21.5" transform="rotate(18.47 530.6 265.0)" fill="#fbfdfb" stroke="#1a1a1a" stroke-width="1.25"/>
<path d="M537.4 244.6 L555.9 250.8 L542.3 291.6 L523.8 285.4 Z" fill="#fbfdfb" stroke="none"/>
<line x1="537.4" y1="244.6" x2="555.9" y2="250.8" stroke="#1a1a1a" stroke-width="1.25" />
<line x1="523.8" y1="285.4" x2="542.3" y2="291.6" stroke="#1a1a1a" stroke-width="1.25" />
<ellipse cx="549.1" cy="271.2" rx="5.6" ry="21.5" transform="rotate(18.47 549.1 271.2)" fill="#fbfdfb" stroke="#1a1a1a" stroke-width="1.25"/>
<ellipse cx="538.2" cy="250.6" rx="3.4" ry="2.3" transform="rotate(-25 538.2 250.6)" fill="#fbfdfb" stroke="#1a1a1a" stroke-width="1.1"/>
<ellipse cx="546.6" cy="270.4" rx="7.0" ry="27.0" transform="rotate(18.47 546.6 270.4)" fill="#fbfdfb" stroke="#1a1a1a" stroke-width="1.5"/>
<path d="M555.1 244.7 L557.6 245.6 L540.5 296.8 L538.0 296.0 Z" fill="#fbfdfb" stroke="none"/>
<line x1="555.1" y1="244.7" x2="557.6" y2="245.6" stroke="#1a1a1a" stroke-width="1.5" />
<line x1="538.0" y1="296.0" x2="540.5" y2="296.8" stroke="#1a1a1a" stroke-width="1.5" />
<ellipse cx="549.1" cy="271.2" rx="7.0" ry="27.0" transform="rotate(18.47 549.1 271.2)" fill="#fbfdfb" stroke="#1a1a1a" stroke-width="1.5"/>
<path d="M538.0 296.0 L537.2 295.5 L536.6 294.5 L536.1 293.2 L535.9 291.4 L535.7 289.3 L535.8 286.9 L536.1 284.2 L536.5 281.2 L537.2 278.1 L537.9 274.8 L538.9 271.5 L539.9 268.1 L541.1 264.8 L542.4 261.6 L543.7 258.5 L545.1 255.6 L546.5 253.0 L547.9 250.7 L549.3 248.7 L550.7 247.1 L551.9 245.8 L553.1 245.0 L554.2 244.7 L555.1 244.7" fill="none" stroke="#1a1a1a" stroke-width="3.0" stroke-linecap="round"/>
<path d="M518.2 332.9 L516.4 340.3 L515.1 349.0 L515.2 353.4 L515.6 355.1 L516.1 356.6 L516.9 357.8 L517.9 358.7 L519.6 359.4 L532.6 363.8 L534.4 364.2 L535.8 364.1 L537.1 363.6 L538.4 362.8 L539.8 361.6 L542.5 358.2 L546.7 350.5 L551.2 339.1 L556.8 321.9 L559.3 311.3 L560.0 305.8 L559.9 302.2 L568.4 277.6 L570.6 270.1 L571.4 266.4 L572.3 259.9 L572.2 254.9 L571.7 253.2 L571.1 252.0 L570.2 251.3 L557.2 247.0 L556.1 247.0 L554.8 247.5 L553.4 248.7 L550.3 252.6 L547.1 258.3 L544.1 265.3 L534.8 293.8 L532.6 296.7 L529.8 301.5 L525.4 311.4 L521.6 322.1 L518.2 332.9 Z" fill="#fbfdfb" stroke="#1a1a1a" stroke-width="1.25" stroke-linejoin="round"/>
<path d="M547.9 298.1 L544.2 303.3 L542.8 305.8 L538.4 315.8 L532.6 332.8 L530.2 341.2 L528.8 347.9 L528.3 350.7 L528.1 355.7 L528.6 359.5 L529.1 360.9 L529.9 362.1 L530.9 363.0 L532.6 363.7 L534.4 364.2 L535.8 364.1 L537.1 363.6 L538.4 362.8 L541.1 360.0 L543.9 355.9 L546.7 350.4 L549.6 343.4 L555.5 326.4 L557.9 318.0 L559.3 311.3 L559.9 305.8 L559.9 302.2 L568.4 277.6 L569.6 273.8 L571.4 266.4 L572.2 259.9 L572.1 254.9 L571.7 253.2 L571.1 252.0 L570.2 251.3 L569.1 251.3 L567.8 251.9 L566.4 253.0 L563.4 256.9 L560.2 262.7 L558.6 266.1 L555.8 273.4 L547.9 298.1 Z" fill="#fbfdfb" stroke="#1a1a1a" stroke-width="1.25" stroke-linejoin="round"/>
<path d="M546.5 302.4 L545.3 304.0 L544.2 305.9 L543.0 308.1 L541.8 310.5 L540.5 313.4 L539.2 316.7 L537.7 320.7 L535.6 326.8 L533.7 332.9 L532.4 337.0 L531.5 340.4 L530.8 343.5 L530.3 346.2 L529.9 348.6 L529.7 350.8 L529.7 352.8 L529.8 354.5 L530.1 356.0 L530.6 357.3 L531.3 358.4 L532.3 359.2 L533.9 359.9" fill="none" stroke="#1a1a1a" stroke-width="1.0" />
<path d="M569.6 255.7 L568.9 255.2 L568.0 255.1 L566.9 255.6 L565.7 256.6 L564.5 258.0 L563.2 259.9 L561.8 262.1 L560.5 264.7 L559.2 267.6 L557.9 270.6 L556.8 273.8 L548.9 298.3 L548.8 298.7 L548.6 299.0 L548.5 299.4 L548.4 299.7 L548.2 300.0 L548.1 300.3 L547.9 300.6 L547.7 300.9 L547.6 301.1 L547.4 301.3 L547.3 301.5 L546.5 302.4" fill="none" stroke="#1a1a1a" stroke-width="1.0" />
<line x1="515.1" y1="348.8" x2="528.1" y2="353.1" stroke="#1a1a1a" stroke-width="1.12" />
<line x1="522.3" y1="320.3" x2="535.3" y2="324.7" stroke="#1a1a1a" stroke-width="1.12" />
<line x1="532.0" y1="297.7" x2="545.0" y2="302.0" stroke="#1a1a1a" stroke-width="1.12" />
<line x1="517.4" y1="358.2" x2="530.4" y2="362.5" stroke="#1a1a1a" stroke-width="1.12" />
<ellipse cx="551.0" cy="308.7" rx="7.9" ry="30.5" transform="rotate(18.47 551.0 308.7)" fill="#fbfdfb" stroke="#1a1a1a" stroke-width="1.5"/>
<path d="M560.7 279.8 L563.7 280.8 L544.3 338.7 L541.3 337.7 Z" fill="#fbfdfb" stroke="none"/>
<line x1="560.7" y1="279.8" x2="563.7" y2="280.8" stroke="#1a1a1a" stroke-width="1.5" />
<line x1="541.3" y1="337.7" x2="544.3" y2="338.7" stroke="#1a1a1a" stroke-width="1.5" />
<ellipse cx="554.0" cy="309.7" rx="7.9" ry="30.5" transform="rotate(18.47 554.0 309.7)" fill="#fbfdfb" stroke="#1a1a1a" stroke-width="1.5"/>
<ellipse cx="554.0" cy="309.7" rx="5.9" ry="22.5" transform="rotate(18.47 554.0 309.7)" fill="#fbfdfb" stroke="#1a1a1a" stroke-width="1.25"/>
<path d="M561.1 288.4 L582.1 295.4 L567.9 338.1 L546.9 331.1 Z" fill="#fbfdfb" stroke="none"/>
<line x1="561.1" y1="288.4" x2="582.1" y2="295.4" stroke="#1a1a1a" stroke-width="1.25" />
<line x1="546.9" y1="331.1" x2="567.9" y2="338.1" stroke="#1a1a1a" stroke-width="1.25" />
<ellipse cx="575.0" cy="316.7" rx="5.9" ry="22.5" transform="rotate(18.47 575.0 316.7)" fill="#fbfdfb" stroke="#1a1a1a" stroke-width="1.25"/>
<ellipse cx="567.7" cy="292.2" rx="2.5" ry="1.7" transform="rotate(-25 567.7 292.2)" fill="#fbfdfb" stroke="#1a1a1a" stroke-width="1.1"/>
<ellipse cx="572.0" cy="315.7" rx="7.9" ry="30.5" transform="rotate(18.47 572.0 315.7)" fill="#fbfdfb" stroke="#1a1a1a" stroke-width="1.5"/>
<path d="M581.7 286.8 L584.7 287.8 L565.3 345.7 L562.3 344.7 Z" fill="#fbfdfb" stroke="none"/>
<line x1="581.7" y1="286.8" x2="584.7" y2="287.8" stroke="#1a1a1a" stroke-width="1.5" />
<line x1="562.3" y1="344.7" x2="565.3" y2="345.7" stroke="#1a1a1a" stroke-width="1.5" />
<ellipse cx="575.0" cy="316.7" rx="7.9" ry="30.5" transform="rotate(18.47 575.0 316.7)" fill="#fbfdfb" stroke="#1a1a1a" stroke-width="1.5"/>
<path d="M562.3 344.7 L561.4 344.1 L560.7 343.0 L560.2 341.5 L559.9 339.5 L559.8 337.2 L559.8 334.4 L560.2 331.4 L560.7 328.0 L561.4 324.5 L562.2 320.8 L563.3 317.0 L564.5 313.2 L565.8 309.5 L567.2 305.8 L568.7 302.4 L570.3 299.1 L571.9 296.1 L573.5 293.5 L575.1 291.3 L576.6 289.4 L578.0 288.1 L579.4 287.1 L580.6 286.7 L581.7 286.8" fill="none" stroke="#1a1a1a" stroke-width="3.0" stroke-linecap="round"/>
<path d="M555.2 345.1 L554.0 351.3 L553.5 356.1 L553.6 358.0 L554.5 361.1 L555.3 362.2 L556.5 363.1 L572.2 368.5 L574.9 369.3 L576.4 369.3 L577.8 368.9 L579.8 367.4 L580.7 367.7 L582.0 367.7 L583.4 367.1 L585.0 365.8 L586.7 363.8 L590.3 358.3 L593.9 351.0 L597.1 342.6 L599.6 334.0 L601.1 325.9 L601.5 322.4 L601.6 319.3 L601.4 316.8 L600.9 314.9 L603.7 305.1 L605.2 296.3 L605.3 292.1 L604.9 290.5 L604.4 289.1 L603.6 288.0 L602.4 287.0 L599.7 286.0 L584.0 280.9 L582.4 280.9 L581.1 281.3 L578.6 283.2 L576.1 286.6 L573.5 291.5 L568.9 302.6 L559.3 331.0 L555.2 345.1 Z" fill="#fbfdfb" stroke="#1a1a1a" stroke-width="1.25" stroke-linejoin="round"/>
<path d="M600.9 314.9 L603.7 305.1 L604.9 298.9 L605.3 294.0 L604.9 290.5 L604.4 289.1 L603.6 288.0 L602.4 287.1 L599.7 286.0 L596.9 285.2 L595.4 285.2 L594.1 285.7 L591.6 287.6 L589.1 290.9 L586.5 295.8 L581.9 307.0 L572.3 335.3 L568.2 349.4 L566.7 358.2 L566.6 362.4 L566.9 364.0 L567.5 365.4 L568.3 366.5 L569.5 367.4 L572.2 368.5 L574.9 369.3 L576.4 369.3 L577.8 368.9 L580.0 367.2 L580.7 367.7 L582.0 367.7 L583.4 367.1 L585.0 365.8 L586.7 363.8 L590.3 358.3 L592.1 354.8 L595.6 346.8 L597.1 342.6 L599.6 334.0 L601.1 325.9 L601.5 322.4 L601.6 319.3 L601.4 316.8 L600.9 314.9 Z" fill="#fbfdfb" stroke="#1a1a1a" stroke-width="1.25" stroke-linejoin="round"/>
<path d="M598.5 289.8 L595.7 289.0 L594.3 289.1 L593.1 289.4 L592.0 290.1 L591.0 291.0 L590.0 292.2 L589.0 293.7 L588.0 295.5 L586.8 297.7 L585.6 300.4 L584.3 303.7 L582.8 307.7 L580.8 313.1 L577.1 324.3 L573.4 335.5 L571.7 340.9 L570.5 345.1 L569.6 348.5 L568.9 351.4 L568.5 353.8 L568.2 355.9 L568.2 357.7 L568.2 359.2 L568.5 360.6 L568.9 361.8 L569.7 362.8 L570.8 363.7 L573.4 364.7" fill="none" stroke="#1a1a1a" stroke-width="1.0" />
<line x1="580.2" y1="281.9" x2="593.2" y2="286.2" stroke="#1a1a1a" stroke-width="1.12" />
<line x1="568.4" y1="304.0" x2="581.4" y2="308.4" stroke="#1a1a1a" stroke-width="1.12" />
<line x1="558.9" y1="332.3" x2="571.9" y2="336.6" stroke="#1a1a1a" stroke-width="1.12" />
<line x1="553.7" y1="358.4" x2="566.7" y2="362.7" stroke="#1a1a1a" stroke-width="1.12" />
<line x1="559.2" y1="364.2" x2="572.2" y2="368.5" stroke="#1a1a1a" stroke-width="1.12" />
<ellipse cx="589.9" cy="340.2" rx="7.0" ry="27.0" transform="rotate(18.47 589.9 340.2)" fill="#fbfdfb" stroke="#1a1a1a" stroke-width="1.5"/>
<path d="M598.5 314.6 L601.0 315.4 L583.9 366.6 L581.4 365.8 Z" fill="#fbfdfb" stroke="none"/>
<line x1="598.5" y1="314.6" x2="601.0" y2="315.4" stroke="#1a1a1a" stroke-width="1.5" />
<line x1="581.4" y1="365.8" x2="583.9" y2="366.6" stroke="#1a1a1a" stroke-width="1.5" />
<ellipse cx="592.4" cy="341.0" rx="7.0" ry="27.0" transform="rotate(18.47 592.4 341.0)" fill="#fbfdfb" stroke="#1a1a1a" stroke-width="1.5"/>
<ellipse cx="592.4" cy="341.0" rx="5.6" ry="21.5" transform="rotate(18.47 592.4 341.0)" fill="#fbfdfb" stroke="#1a1a1a" stroke-width="1.25"/>
<path d="M599.2 320.6 L619.7 327.5 L606.1 368.3 L585.6 361.4 Z" fill="#fbfdfb" stroke="none"/>
<line x1="599.2" y1="320.6" x2="619.7" y2="327.5" stroke="#1a1a1a" stroke-width="1.25" />
<line x1="585.6" y1="361.4" x2="606.1" y2="368.3" stroke="#1a1a1a" stroke-width="1.25" />
<ellipse cx="612.9" cy="347.9" rx="5.6" ry="21.5" transform="rotate(18.47 612.9 347.9)" fill="#fbfdfb" stroke="#1a1a1a" stroke-width="1.25"/>
<ellipse cx="601.0" cy="326.9" rx="2.4" ry="1.6" transform="rotate(-25 601.0 326.9)" fill="#fbfdfb" stroke="#1a1a1a" stroke-width="1.1"/>
<ellipse cx="610.4" cy="347.0" rx="7.0" ry="27.0" transform="rotate(18.47 610.4 347.0)" fill="#fbfdfb" stroke="#1a1a1a" stroke-width="1.5"/>
<path d="M619.0 321.4 L621.5 322.3 L604.4 373.5 L601.9 372.6 Z" fill="#fbfdfb" stroke="none"/>
<line x1="619.0" y1="321.4" x2="621.5" y2="322.3" stroke="#1a1a1a" stroke-width="1.5" />
<line x1="601.9" y1="372.6" x2="604.4" y2="373.5" stroke="#1a1a1a" stroke-width="1.5" />
<ellipse cx="612.9" cy="347.9" rx="7.0" ry="27.0" transform="rotate(18.47 612.9 347.9)" fill="#fbfdfb" stroke="#1a1a1a" stroke-width="1.5"/>
<path d="M601.9 372.6 L601.1 372.1 L600.4 371.2 L600.0 369.8 L599.7 368.1 L599.6 366.0 L599.7 363.6 L599.9 360.9 L600.4 357.9 L601.0 354.8 L601.8 351.5 L602.7 348.2 L603.8 344.8 L604.9 341.5 L606.2 338.3 L607.6 335.2 L608.9 332.3 L610.4 329.7 L611.8 327.3 L613.2 325.4 L614.5 323.7 L615.8 322.5 L617.0 321.7 L618.0 321.3 L619.0 321.4" fill="none" stroke="#1a1a1a" stroke-width="3.0" stroke-linecap="round"/>
<path d="M602.3 346.4 L599.7 358.3 L598.8 365.5 L598.8 371.2 L599.1 373.5 L599.7 375.5 L600.5 377.0 L601.5 378.1 L603.0 378.8 L616.0 383.2 L617.7 383.5 L619.2 383.2 L620.0 382.9 L622.9 374.3 L626.3 369.1 L629.6 362.2 L631.2 358.4 L633.9 350.4 L634.9 346.4 L636.4 339.0 L636.8 332.7 L646.6 303.3 L646.2 302.5 L645.1 301.4 L643.6 300.6 L630.6 296.3 L629.0 296.0 L627.4 296.2 L625.9 297.0 L624.3 298.2 L622.6 299.8 L620.9 301.9 L617.8 306.6 L616.1 307.9 L613.2 311.6 L611.7 314.1 L608.7 320.2 L606.1 327.1 L604.0 334.2 L602.7 340.9 L602.3 346.4 Z" fill="#fbfdfb" stroke="#1a1a1a" stroke-width="1.25" stroke-linejoin="round"/>
<path d="M630.8 311.0 L629.1 312.3 L626.2 315.9 L624.7 318.5 L621.7 324.5 L620.3 327.9 L618.0 335.0 L616.3 342.0 L615.4 348.1 L615.4 350.9 L613.5 358.6 L612.1 366.4 L611.7 372.9 L612.1 377.9 L612.7 379.8 L613.5 381.3 L614.5 382.4 L616.1 383.2 L617.7 383.5 L619.2 383.2 L620.0 382.9 L622.8 374.3 L626.3 369.1 L629.6 362.2 L631.2 358.4 L633.8 350.4 L635.7 342.6 L636.7 335.7 L636.8 332.7 L646.6 303.3 L646.2 302.5 L645.1 301.4 L643.6 300.7 L642.0 300.4 L640.4 300.6 L638.9 301.3 L637.3 302.5 L635.6 304.2 L633.9 306.3 L630.8 311.0 Z" fill="#fbfdfb" stroke="#1a1a1a" stroke-width="1.25" stroke-linejoin="round"/>
<path d="M639.4 304.4 L638.0 305.0 L636.5 306.1 L635.0 307.6 L633.5 309.4 L632.0 311.7 L630.8 313.7 L630.6 314.0 L630.4 314.2 L630.3 314.4 L630.1 314.5 L630.0 314.7 L629.8 314.7 L629.5 314.9 L628.4 315.8 L627.2 317.1 L626.0 318.9 L624.7 321.0 L623.5 323.4 L622.3 326.0 L621.1 328.8 L620.1 331.8 L619.1 334.8 L618.3 337.7 L617.7 340.6 L617.3 343.3 L617.0 345.7 L617.0 347.8 L617.0 347.9 L617.0 348.1 L617.0 348.4 L617.0 348.7 L616.9 349.0 L616.9 349.3 L616.8 349.7 L616.7 350.0 L616.6 350.4 L615.8 353.5 L614.9 357.4 L614.2 361.0 L613.7 364.4 L613.4 367.4 L613.3 370.1 L613.4 372.5 L613.7 374.5 L614.2 376.3 L614.9 377.6" fill="none" stroke="#1a1a1a" stroke-width="1.0" />
<line x1="623.4" y1="299.1" x2="636.4" y2="303.4" stroke="#1a1a1a" stroke-width="1.12" />
<line x1="612.3" y1="313.0" x2="625.3" y2="317.3" stroke="#1a1a1a" stroke-width="1.12" />
<line x1="602.2" y1="347.3" x2="615.2" y2="351.6" stroke="#1a1a1a" stroke-width="1.12" />
<line x1="598.8" y1="370.9" x2="611.8" y2="375.3" stroke="#1a1a1a" stroke-width="1.12" />
<line x1="602.6" y1="378.6" x2="615.6" y2="382.9" stroke="#1a1a1a" stroke-width="1.12" />
<ellipse cx="624.0" cy="333.1" rx="7.9" ry="30.5" transform="rotate(18.47 624.0 333.1)" fill="#fbfdfb" stroke="#1a1a1a" stroke-width="1.5"/>
<path d="M633.7 304.2 L636.7 305.2 L617.3 363.0 L614.3 362.0 Z" fill="#fbfdfb" stroke="none"/>
<line x1="633.7" y1="304.2" x2="636.7" y2="305.2" stroke="#1a1a1a" stroke-width="1.5" />
<line x1="614.3" y1="362.0" x2="617.3" y2="363.0" stroke="#1a1a1a" stroke-width="1.5" />
<ellipse cx="627.0" cy="334.1" rx="7.9" ry="30.5" transform="rotate(18.47 627.0 334.1)" fill="#fbfdfb" stroke="#1a1a1a" stroke-width="1.5"/>
<ellipse cx="627.0" cy="334.1" rx="5.9" ry="22.5" transform="rotate(18.47 627.0 334.1)" fill="#fbfdfb" stroke="#1a1a1a" stroke-width="1.25"/>
<path d="M634.1 312.8 L647.1 317.1 L632.9 359.8 L619.9 355.5 Z" fill="#fbfdfb" stroke="none"/>
<line x1="634.1" y1="312.8" x2="647.1" y2="317.1" stroke="#1a1a1a" stroke-width="1.25" />
<line x1="619.9" y1="355.5" x2="632.9" y2="359.8" stroke="#1a1a1a" stroke-width="1.25" />
<ellipse cx="640.0" cy="338.5" rx="5.9" ry="22.5" transform="rotate(18.47 640.0 338.5)" fill="#fbfdfb" stroke="#1a1a1a" stroke-width="1.25"/>
<ellipse cx="640.7" cy="316.6" rx="2.5" ry="1.7" transform="rotate(-25 640.7 316.6)" fill="#fbfdfb" stroke="#1a1a1a" stroke-width="1.1"/>
<ellipse cx="637.0" cy="337.5" rx="7.9" ry="30.5" transform="rotate(18.47 637.0 337.5)" fill="#fbfdfb" stroke="#1a1a1a" stroke-width="1.5"/>
<path d="M646.7 308.5 L649.7 309.5 L630.3 367.4 L627.3 366.4 Z" fill="#fbfdfb" stroke="none"/>
<line x1="646.7" y1="308.5" x2="649.7" y2="309.5" stroke="#1a1a1a" stroke-width="1.5" />
<line x1="627.3" y1="366.4" x2="630.3" y2="367.4" stroke="#1a1a1a" stroke-width="1.5" />
<ellipse cx="640.0" cy="338.5" rx="7.9" ry="30.5" transform="rotate(18.47 640.0 338.5)" fill="#fbfdfb" stroke="#1a1a1a" stroke-width="1.5"/>
<path d="M627.3 366.4 L626.4 365.8 L625.7 364.7 L625.2 363.2 L624.9 361.2 L624.8 358.9 L624.8 356.1 L625.2 353.1 L625.7 349.7 L626.4 346.2 L627.2 342.5 L628.3 338.7 L629.5 334.9 L630.8 331.2 L632.2 327.5 L633.7 324.1 L635.3 320.8 L636.9 317.8 L638.5 315.2 L640.1 313.0 L641.6 311.1 L643.0 309.8 L644.4 308.9 L645.6 308.4 L646.7 308.5" fill="none" stroke="#1a1a1a" stroke-width="3.0" stroke-linecap="round"/>
<path d="M621.3 345.9 L618.5 354.5 L616.4 362.9 L615.8 366.8 L615.3 373.4 L615.5 376.0 L616.0 378.0 L616.8 379.4 L617.8 380.1 L630.8 384.4 L632.0 384.4 L633.5 383.8 L635.0 382.5 L647.7 370.2 L649.6 368.1 L653.4 362.2 L656.2 356.6 L658.3 354.6 L661.4 349.5 L663.7 344.2 L666.7 336.2 L673.3 316.5 L676.5 305.3 L677.4 300.4 L677.6 296.7 L677.2 293.9 L676.7 292.8 L675.9 291.9 L674.8 291.2 L672.2 290.2 L656.6 285.1 L655.2 285.0 L654.1 285.3 L652.0 286.7 L651.0 287.8 L648.9 290.9 L646.7 295.4 L642.6 306.2 L638.1 319.5 L630.2 328.9 L628.4 331.4 L624.8 337.9 L621.3 345.9 Z" fill="#fbfdfb" stroke="#1a1a1a" stroke-width="1.25" stroke-linejoin="round"/>
<path d="M632.8 354.5 L630.3 363.1 L628.8 371.1 L628.3 377.7 L628.5 380.3 L629.0 382.3 L629.8 383.7 L630.8 384.4 L632.0 384.4 L633.5 383.8 L635.0 382.5 L647.7 370.2 L649.5 368.1 L653.4 362.1 L656.2 356.6 L657.3 355.7 L659.3 353.2 L662.5 347.0 L665.1 340.7 L670.0 326.3 L674.7 311.9 L676.5 305.3 L677.4 300.4 L677.6 296.7 L677.5 295.2 L676.7 292.8 L675.9 291.9 L674.8 291.2 L669.6 289.4 L668.2 289.4 L667.1 289.6 L666.0 290.2 L665.0 291.0 L663.0 293.5 L660.8 297.3 L658.5 302.6 L655.6 310.6 L651.1 323.8 L643.2 333.2 L639.6 338.8 L636.0 346.1 L632.8 354.5 Z" fill="#fbfdfb" stroke="#1a1a1a" stroke-width="1.25" stroke-linejoin="round"/>
<path d="M632.7 358.6 L631.7 362.3 L630.9 365.8 L630.3 369.2 L630.0 372.2 L630.0 374.9 L630.1 377.1 L630.5 378.8 L631.2 380.0 L632.1 380.6 L633.1 380.6 L634.4 380.1 L635.8 378.9" fill="none" stroke="#1a1a1a" stroke-width="1.0" />
<path d="M668.3 293.2 L667.1 293.2 L666.0 293.4 L665.1 293.9 L664.3 294.6 L663.5 295.4 L662.7 296.5 L662.0 297.8 L661.1 299.4 L660.2 301.3 L659.2 303.7 L658.0 306.8 L656.5 311.1 L653.2 320.7 L652.1 324.1 L652.0 324.5 L651.9 324.9 L651.7 325.2 L651.6 325.6 L651.4 325.9 L651.2 326.2 L651.1 326.5 L650.9 326.8 L650.8 327.0 L650.6 327.2 L642.8 336.5 L641.2 338.7 L639.6 341.3 L638.1 344.3 L636.6 347.6 L635.1 351.2 L633.8 354.8 L632.7 358.6" fill="none" stroke="#1a1a1a" stroke-width="1.0" />
<line x1="651.1" y1="287.6" x2="664.1" y2="292.0" stroke="#1a1a1a" stroke-width="1.12" />
<line x1="645.0" y1="299.5" x2="658.0" y2="303.9" stroke="#1a1a1a" stroke-width="1.12" />
<line x1="635.5" y1="322.6" x2="648.5" y2="327.0" stroke="#1a1a1a" stroke-width="1.12" />
<line x1="632.4" y1="326.3" x2="645.4" y2="330.7" stroke="#1a1a1a" stroke-width="1.12" />
<line x1="615.5" y1="369.4" x2="628.5" y2="373.7" stroke="#1a1a1a" stroke-width="1.12" />
<line x1="617.8" y1="380.1" x2="630.8" y2="384.4" stroke="#1a1a1a" stroke-width="1.12" />
<ellipse cx="640.0" cy="356.9" rx="7.0" ry="27.0" transform="rotate(18.47 640.0 356.9)" fill="#fbfdfb" stroke="#1a1a1a" stroke-width="1.5"/>
<path d="M648.5 331.3 L651.0 332.1 L633.9 383.3 L631.4 382.5 Z" fill="#fbfdfb" stroke="none"/>
<line x1="648.5" y1="331.3" x2="651.0" y2="332.1" stroke="#1a1a1a" stroke-width="1.5" />
<line x1="631.4" y1="382.5" x2="633.9" y2="383.3" stroke="#1a1a1a" stroke-width="1.5" />
<ellipse cx="642.5" cy="357.7" rx="7.0" ry="27.0" transform="rotate(18.47 642.5 357.7)" fill="#fbfdfb" stroke="#1a1a1a" stroke-width="1.5"/>
<ellipse cx="642.5" cy="357.7" rx="5.6" ry="21.5" transform="rotate(18.47 642.5 357.7)" fill="#fbfdfb" stroke="#1a1a1a" stroke-width="1.25"/>
<path d="M649.3 337.3 L671.8 344.9 L658.2 385.6 L635.7 378.1 Z" fill="#fbfdfb" stroke="none"/>
<line x1="649.3" y1="337.3" x2="671.8" y2="344.9" stroke="#1a1a1a" stroke-width="1.25" />
<line x1="635.7" y1="378.1" x2="658.2" y2="385.6" stroke="#1a1a1a" stroke-width="1.25" />
<ellipse cx="665.0" cy="365.2" rx="5.6" ry="21.5" transform="rotate(18.47 665.0 365.2)" fill="#fbfdfb" stroke="#1a1a1a" stroke-width="1.25"/>
<ellipse cx="652.1" cy="343.9" rx="2.4" ry="1.6" transform="rotate(-25 652.1 343.9)" fill="#fbfdfb" stroke="#1a1a1a" stroke-width="1.1"/>
<ellipse cx="662.5" cy="364.4" rx="7.0" ry="27.0" transform="rotate(18.47 662.5 364.4)" fill="#fbfdfb" stroke="#1a1a1a" stroke-width="1.5"/>
<path d="M671.0 338.8 L673.5 339.6 L656.4 390.9 L653.9 390.0 Z" fill="#fbfdfb" stroke="none"/>
<line x1="671.0" y1="338.8" x2="673.5" y2="339.6" stroke="#1a1a1a" stroke-width="1.5" />
<line x1="653.9" y1="390.0" x2="656.4" y2="390.9" stroke="#1a1a1a" stroke-width="1.5" />
<ellipse cx="665.0" cy="365.2" rx="7.0" ry="27.0" transform="rotate(18.47 665.0 365.2)" fill="#fbfdfb" stroke="#1a1a1a" stroke-width="1.5"/>
<path d="M653.9 390.0 L653.1 389.5 L652.5 388.6 L652.0 387.2 L651.7 385.5 L651.6 383.4 L651.7 380.9 L652.0 378.2 L652.4 375.3 L653.1 372.2 L653.8 368.9 L654.8 365.6 L655.8 362.2 L657.0 358.9 L658.3 355.6 L659.6 352.6 L661.0 349.7 L662.4 347.1 L663.8 344.7 L665.2 342.7 L666.6 341.1 L667.8 339.9 L669.0 339.1 L670.1 338.7 L671.0 338.8" fill="none" stroke="#1a1a1a" stroke-width="3.0" stroke-linecap="round"/>
<path d="M658.4 357.4 L655.0 367.5 L652.6 377.4 L651.4 386.1 L651.3 389.7 L651.6 392.7 L652.1 395.1 L653.0 396.7 L654.2 397.5 L667.2 401.8 L668.7 401.9 L670.3 401.1 L672.2 399.6 L687.6 380.8 L691.4 374.8 L694.2 369.3 L696.3 367.3 L699.4 362.2 L701.7 356.9 L704.7 348.9 L711.3 329.2 L714.5 318.0 L715.4 313.1 L715.6 309.4 L715.2 306.6 L714.7 305.5 L713.9 304.6 L712.8 303.9 L710.2 302.9 L694.6 297.8 L693.2 297.7 L692.1 298.0 L690.0 299.4 L689.0 300.5 L686.9 303.6 L684.7 308.0 L682.2 314.4 L677.0 329.5 L670.8 335.2 L668.8 337.5 L666.7 340.5 L662.4 348.1 L658.4 357.4 Z" fill="#fbfdfb" stroke="#1a1a1a" stroke-width="1.25" stroke-linejoin="round"/>
<path d="M669.6 366.8 L666.7 376.9 L664.9 386.3 L664.3 394.0 L664.6 397.1 L665.1 399.4 L666.0 401.0 L667.2 401.8 L668.7 401.9 L670.3 401.1 L672.2 399.6 L687.5 380.8 L691.4 374.8 L694.2 369.3 L695.3 368.4 L697.3 365.9 L700.5 359.7 L703.1 353.4 L708.0 339.0 L712.7 324.6 L714.5 318.0 L715.4 313.1 L715.6 309.4 L715.5 307.9 L714.7 305.5 L713.9 304.6 L712.8 303.9 L707.6 302.1 L706.2 302.0 L705.1 302.3 L704.0 302.9 L703.0 303.7 L701.0 306.2 L698.8 310.0 L696.5 315.3 L690.0 333.9 L683.8 339.6 L681.8 341.9 L677.5 348.4 L673.3 357.0 L669.6 366.8 Z" fill="#fbfdfb" stroke="#1a1a1a" stroke-width="1.25" stroke-linejoin="round"/>
<path d="M669.2 371.6 L668.0 376.0 L667.1 380.3 L666.4 384.3 L666.0 388.0 L665.9 391.1 L666.2 393.8 L666.7 395.9 L667.4 397.3 L668.5 398.0 L669.8 398.1 L671.2 397.4 L672.9 396.1 L674.7 394.0" fill="none" stroke="#1a1a1a" stroke-width="1.0" />
<path d="M706.3 305.9 L705.1 305.9 L704.0 306.1 L703.1 306.6 L702.3 307.3 L701.5 308.1 L700.7 309.2 L700.0 310.5 L699.1 312.0 L698.2 314.0 L697.2 316.4 L696.0 319.5 L694.5 323.8 L691.2 333.4 L691.0 334.2 L690.9 334.5 L690.7 334.9 L690.6 335.2 L690.5 335.6 L690.3 335.9 L690.2 336.2 L690.0 336.5 L689.9 336.7 L689.7 336.9 L689.5 337.1 L689.4 337.3 L689.3 337.5 L683.1 343.1 L681.3 345.1 L679.5 347.7 L677.6 350.9 L675.7 354.5 L673.9 358.5 L672.2 362.7 L670.6 367.1 L669.2 371.6" fill="none" stroke="#1a1a1a" stroke-width="1.0" />
<line x1="689.1" y1="300.3" x2="702.1" y2="304.6" stroke="#1a1a1a" stroke-width="1.12" />
<line x1="683.0" y1="312.2" x2="696.0" y2="316.6" stroke="#1a1a1a" stroke-width="1.12" />
<line x1="673.7" y1="332.5" x2="686.7" y2="336.9" stroke="#1a1a1a" stroke-width="1.12" />
<line x1="671.6" y1="334.4" x2="684.6" y2="338.8" stroke="#1a1a1a" stroke-width="1.12" />
<line x1="651.6" y1="384.8" x2="664.6" y2="389.2" stroke="#1a1a1a" stroke-width="1.12" />
<line x1="654.3" y1="397.5" x2="667.3" y2="401.8" stroke="#1a1a1a" stroke-width="1.12" />
<ellipse cx="691.0" cy="355.5" rx="7.9" ry="30.5" transform="rotate(18.47 691.0 355.5)" fill="#fbfdfb" stroke="#1a1a1a" stroke-width="1.5"/>
<path d="M700.7 326.6 L703.7 327.6 L684.3 385.4 L681.3 384.4 Z" fill="#fbfdfb" stroke="none"/>
<line x1="700.7" y1="326.6" x2="703.7" y2="327.6" stroke="#1a1a1a" stroke-width="1.5" />
<line x1="681.3" y1="384.4" x2="684.3" y2="385.4" stroke="#1a1a1a" stroke-width="1.5" />
<ellipse cx="694.0" cy="356.5" rx="7.9" ry="30.5" transform="rotate(18.47 694.0 356.5)" fill="#fbfdfb" stroke="#1a1a1a" stroke-width="1.5"/>
<ellipse cx="694.0" cy="356.5" rx="5.9" ry="22.5" transform="rotate(18.47 694.0 356.5)" fill="#fbfdfb" stroke="#1a1a1a" stroke-width="1.25"/>
<path d="M701.1 335.1 L721.1 341.8 L706.9 384.5 L686.9 377.8 Z" fill="#fbfdfb" stroke="none"/>
<line x1="701.1" y1="335.1" x2="721.1" y2="341.8" stroke="#1a1a1a" stroke-width="1.25" />
<line x1="686.9" y1="377.8" x2="706.9" y2="384.5" stroke="#1a1a1a" stroke-width="1.25" />
<ellipse cx="714.0" cy="363.2" rx="5.9" ry="22.5" transform="rotate(18.47 714.0 363.2)" fill="#fbfdfb" stroke="#1a1a1a" stroke-width="1.25"/>
<ellipse cx="707.7" cy="339.0" rx="2.5" ry="1.7" transform="rotate(-25 707.7 339.0)" fill="#fbfdfb" stroke="#1a1a1a" stroke-width="1.1"/>
<ellipse cx="711.0" cy="362.2" rx="7.9" ry="30.5" transform="rotate(18.47 711.0 362.2)" fill="#fbfdfb" stroke="#1a1a1a" stroke-width="1.5"/>
<path d="M720.7 333.2 L723.7 334.2 L704.3 392.1 L701.3 391.1 Z" fill="#fbfdfb" stroke="none"/>
<line x1="720.7" y1="333.2" x2="723.7" y2="334.2" stroke="#1a1a1a" stroke-width="1.5" />
<line x1="701.3" y1="391.1" x2="704.3" y2="392.1" stroke="#1a1a1a" stroke-width="1.5" />
<ellipse cx="714.0" cy="363.2" rx="7.9" ry="30.5" transform="rotate(18.47 714.0 363.2)" fill="#fbfdfb" stroke="#1a1a1a" stroke-width="1.5"/>
<path d="M701.3 391.1 L700.4 390.5 L699.7 389.5 L699.2 387.9 L698.9 386.0 L698.8 383.6 L698.8 380.8 L699.2 377.8 L699.7 374.5 L700.4 370.9 L701.2 367.2 L702.3 363.5 L703.5 359.7 L704.8 355.9 L706.2 352.3 L707.7 348.8 L709.3 345.5 L710.9 342.6 L712.5 339.9 L714.1 337.7 L715.6 335.9 L717.0 334.5 L718.4 333.6 L719.6 333.2 L720.7 333.2" fill="none" stroke="#1a1a1a" stroke-width="3.0" stroke-linecap="round"/>
<path d="M695.3 370.6 L692.5 379.2 L690.4 387.6 L689.8 391.5 L689.3 398.1 L689.5 400.7 L690.0 402.7 L690.8 404.1 L691.8 404.8 L704.8 409.1 L706.0 409.2 L707.5 408.5 L709.0 407.2 L721.7 394.9 L723.6 392.8 L727.4 386.9 L730.2 381.3 L732.3 379.3 L735.4 374.2 L737.7 368.9 L740.7 360.9 L747.3 341.2 L750.5 330.0 L751.4 325.1 L751.6 321.4 L751.2 318.6 L750.7 317.5 L749.9 316.6 L748.8 315.9 L746.2 314.9 L730.6 309.8 L729.2 309.7 L728.1 310.0 L726.0 311.4 L725.0 312.5 L722.9 315.6 L720.7 320.1 L716.6 331.0 L712.1 344.2 L704.2 353.6 L702.4 356.1 L698.8 362.7 L695.3 370.6 Z" fill="#fbfdfb" stroke="#1a1a1a" stroke-width="1.25" stroke-linejoin="round"/>
<path d="M706.8 379.2 L704.3 387.8 L702.8 395.8 L702.3 402.5 L702.5 405.0 L703.0 407.0 L703.8 408.4 L704.8 409.1 L706.0 409.2 L707.5 408.5 L709.0 407.2 L721.7 394.9 L723.5 392.8 L727.4 386.9 L730.2 381.3 L731.3 380.4 L733.3 377.9 L736.5 371.8 L739.1 365.4 L744.0 351.1 L748.7 336.6 L750.5 330.0 L751.4 325.1 L751.6 321.4 L751.5 319.9 L750.7 317.5 L749.9 316.6 L748.8 315.9 L743.6 314.1 L742.2 314.1 L741.1 314.3 L740.0 314.9 L739.0 315.7 L737.0 318.3 L734.8 322.0 L732.5 327.3 L729.6 335.3 L725.1 348.6 L717.2 358.0 L713.6 363.5 L710.0 370.8 L706.8 379.2 Z" fill="#fbfdfb" stroke="#1a1a1a" stroke-width="1.25" stroke-linejoin="round"/>
<path d="M706.7 383.3 L705.7 387.0 L704.9 390.5 L704.3 393.9 L704.0 396.9 L704.0 399.6 L704.1 401.8 L704.5 403.5 L705.2 404.7 L706.1 405.3 L707.1 405.3 L708.4 404.8 L709.8 403.6" fill="none" stroke="#1a1a1a" stroke-width="1.0" />
<path d="M742.3 317.9 L741.1 317.9 L740.0 318.1 L739.1 318.6 L738.3 319.3 L737.5 320.2 L736.7 321.2 L736.0 322.5 L735.1 324.1 L734.2 326.0 L733.2 328.4 L732.0 331.6 L730.5 335.8 L727.2 345.5 L726.1 348.8 L726.0 349.2 L725.9 349.6 L725.7 350.0 L725.6 350.3 L725.4 350.6 L725.2 350.9 L725.1 351.2 L724.9 351.5 L724.8 351.7 L724.6 351.9 L716.8 361.2 L715.2 363.4 L713.6 366.0 L712.1 369.0 L710.6 372.3 L709.1 375.9 L707.8 379.6 L706.7 383.3" fill="none" stroke="#1a1a1a" stroke-width="1.0" />
<line x1="725.1" y1="312.3" x2="738.1" y2="316.7" stroke="#1a1a1a" stroke-width="1.12" />
<line x1="719.0" y1="324.3" x2="732.0" y2="328.6" stroke="#1a1a1a" stroke-width="1.12" />
<line x1="709.5" y1="347.4" x2="722.5" y2="351.7" stroke="#1a1a1a" stroke-width="1.12" />
<line x1="706.4" y1="351.1" x2="719.4" y2="355.4" stroke="#1a1a1a" stroke-width="1.12" />
<line x1="689.5" y1="394.1" x2="702.5" y2="398.4" stroke="#1a1a1a" stroke-width="1.12" />
<line x1="691.8" y1="404.8" x2="704.8" y2="409.1" stroke="#1a1a1a" stroke-width="1.12" />
<ellipse cx="714.0" cy="381.6" rx="7.0" ry="27.0" transform="rotate(18.47 714.0 381.6)" fill="#fbfdfb" stroke="#1a1a1a" stroke-width="1.5"/>
<path d="M722.5 356.0 L725.0 356.8 L707.9 408.1 L705.4 407.2 Z" fill="#fbfdfb" stroke="none"/>
<line x1="722.5" y1="356.0" x2="725.0" y2="356.8" stroke="#1a1a1a" stroke-width="1.5" />
<line x1="705.4" y1="407.2" x2="707.9" y2="408.1" stroke="#1a1a1a" stroke-width="1.5" />
<ellipse cx="716.5" cy="382.4" rx="7.0" ry="27.0" transform="rotate(18.47 716.5 382.4)" fill="#fbfdfb" stroke="#1a1a1a" stroke-width="1.5"/>
<ellipse cx="716.5" cy="382.4" rx="5.6" ry="21.5" transform="rotate(18.47 716.5 382.4)" fill="#fbfdfb" stroke="#1a1a1a" stroke-width="1.25"/>
<path d="M723.3 362.1 L745.8 369.6 L732.2 410.4 L709.7 402.8 Z" fill="#fbfdfb" stroke="none"/>
<line x1="723.3" y1="362.1" x2="745.8" y2="369.6" stroke="#1a1a1a" stroke-width="1.25" />
<line x1="709.7" y1="402.8" x2="732.2" y2="410.4" stroke="#1a1a1a" stroke-width="1.25" />
<ellipse cx="739.0" cy="390.0" rx="5.6" ry="21.5" transform="rotate(18.47 739.0 390.0)" fill="#fbfdfb" stroke="#1a1a1a" stroke-width="1.25"/>
<ellipse cx="726.1" cy="368.7" rx="2.4" ry="1.6" transform="rotate(-25 726.1 368.7)" fill="#fbfdfb" stroke="#1a1a1a" stroke-width="1.1"/>
<ellipse cx="736.5" cy="389.1" rx="7.0" ry="27.0" transform="rotate(18.47 736.5 389.1)" fill="#fbfdfb" stroke="#1a1a1a" stroke-width="1.5"/>
<path d="M745.0 363.5 L747.5 364.4 L730.4 415.6 L727.9 414.7 Z" fill="#fbfdfb" stroke="none"/>
<line x1="745.0" y1="363.5" x2="747.5" y2="364.4" stroke="#1a1a1a" stroke-width="1.5" />
<line x1="727.9" y1="414.7" x2="730.4" y2="415.6" stroke="#1a1a1a" stroke-width="1.5" />
<ellipse cx="739.0" cy="390.0" rx="7.0" ry="27.0" transform="rotate(18.47 739.0 390.0)" fill="#fbfdfb" stroke="#1a1a1a" stroke-width="1.5"/>
<path d="M727.9 414.7 L727.1 414.2 L726.5 413.3 L726.0 411.9 L725.7 410.2 L725.6 408.1 L725.7 405.7 L726.0 403.0 L726.4 400.0 L727.1 396.9 L727.8 393.6 L728.8 390.3 L729.8 386.9 L731.0 383.6 L732.3 380.4 L733.6 377.3 L735.0 374.4 L736.4 371.8 L737.8 369.4 L739.2 367.5 L740.6 365.8 L741.8 364.6 L743.0 363.8 L744.1 363.4 L745.0 363.5" fill="none" stroke="#1a1a1a" stroke-width="3.0" stroke-linecap="round"/>
<path d="M732.4 382.2 L729.0 392.2 L726.6 402.1 L725.4 410.8 L725.3 414.4 L725.6 417.4 L726.1 419.8 L727.0 421.4 L728.2 422.2 L741.2 426.6 L742.7 426.6 L744.3 425.9 L746.2 424.3 L761.6 405.5 L765.4 399.6 L768.2 394.0 L770.3 392.0 L773.4 386.9 L775.7 381.6 L778.7 373.6 L785.3 353.9 L788.5 342.7 L789.4 337.8 L789.6 334.1 L789.2 331.3 L788.7 330.2 L787.9 329.3 L786.8 328.6 L784.2 327.6 L768.6 322.5 L767.2 322.4 L766.1 322.7 L764.0 324.1 L763.0 325.2 L760.9 328.3 L758.7 332.8 L756.2 339.1 L751.0 354.3 L744.8 360.0 L742.8 362.2 L740.7 365.2 L736.4 372.8 L732.4 382.2 Z" fill="#fbfdfb" stroke="#1a1a1a" stroke-width="1.25" stroke-linejoin="round"/>
<path d="M743.6 391.5 L740.7 401.6 L738.9 411.0 L738.3 418.8 L738.6 421.8 L739.1 424.1 L740.0 425.7 L741.2 426.6 L742.7 426.6 L744.3 425.8 L746.2 424.3 L761.5 405.5 L765.4 399.6 L768.2 394.0 L769.3 393.1 L771.3 390.6 L774.5 384.5 L777.1 378.1 L782.0 363.7 L786.7 349.3 L788.5 342.7 L789.4 337.8 L789.6 334.1 L789.5 332.6 L788.7 330.2 L787.9 329.3 L786.8 328.6 L781.6 326.8 L780.2 326.8 L779.1 327.0 L778.0 327.6 L777.0 328.4 L775.0 331.0 L772.8 334.7 L770.5 340.0 L764.0 358.6 L757.8 364.3 L755.8 366.6 L751.5 373.1 L747.3 381.7 L743.6 391.5 Z" fill="#fbfdfb" stroke="#1a1a1a" stroke-width="1.25" stroke-linejoin="round"/>
<path d="M743.2 396.3 L742.0 400.7 L741.1 405.0 L740.4 409.0 L740.0 412.7 L739.9 415.9 L740.2 418.5 L740.7 420.6 L741.4 422.0 L742.5 422.7 L743.8 422.8 L745.2 422.1 L746.9 420.8 L748.7 418.7" fill="none" stroke="#1a1a1a" stroke-width="1.0" />
<path d="M780.3 330.6 L779.1 330.6 L778.0 330.8 L777.1 331.3 L776.3 332.0 L775.5 332.8 L774.7 333.9 L774.0 335.2 L773.1 336.8 L772.2 338.7 L771.2 341.1 L770.0 344.2 L768.5 348.5 L765.2 358.1 L765.0 358.9 L764.9 359.2 L764.7 359.6 L764.6 359.9 L764.5 360.3 L764.3 360.6 L764.2 360.9 L764.0 361.2 L763.9 361.4 L763.7 361.7 L763.5 361.9 L763.4 362.0 L763.3 362.2 L757.1 367.8 L755.3 369.8 L753.5 372.4 L751.6 375.6 L749.7 379.2 L747.9 383.2 L746.2 387.4 L744.6 391.8 L743.2 396.3" fill="none" stroke="#1a1a1a" stroke-width="1.0" />
<line x1="763.1" y1="325.0" x2="776.1" y2="329.4" stroke="#1a1a1a" stroke-width="1.12" />
<line x1="757.0" y1="337.0" x2="770.0" y2="341.3" stroke="#1a1a1a" stroke-width="1.12" />
<line x1="747.7" y1="357.3" x2="760.7" y2="361.6" stroke="#1a1a1a" stroke-width="1.12" />
<line x1="745.6" y1="359.2" x2="758.6" y2="363.5" stroke="#1a1a1a" stroke-width="1.12" />
<line x1="725.6" y1="409.6" x2="738.6" y2="413.9" stroke="#1a1a1a" stroke-width="1.12" />
<line x1="728.3" y1="422.2" x2="741.3" y2="426.6" stroke="#1a1a1a" stroke-width="1.12" />
<ellipse cx="765.0" cy="380.2" rx="7.9" ry="30.5" transform="rotate(18.47 765.0 380.2)" fill="#fbfdfb" stroke="#1a1a1a" stroke-width="1.5"/>
<path d="M774.7 351.3 L777.7 352.3 L758.3 410.1 L755.3 409.1 Z" fill="#fbfdfb" stroke="none"/>
<line x1="774.7" y1="351.3" x2="777.7" y2="352.3" stroke="#1a1a1a" stroke-width="1.5" />
<line x1="755.3" y1="409.1" x2="758.3" y2="410.1" stroke="#1a1a1a" stroke-width="1.5" />
<ellipse cx="768.0" cy="381.2" rx="7.9" ry="30.5" transform="rotate(18.47 768.0 381.2)" fill="#fbfdfb" stroke="#1a1a1a" stroke-width="1.5"/>
<ellipse cx="768.0" cy="381.2" rx="5.9" ry="22.5" transform="rotate(18.47 768.0 381.2)" fill="#fbfdfb" stroke="#1a1a1a" stroke-width="1.25"/>
<path d="M775.1 359.9 L789.1 364.5 L774.9 407.2 L760.9 402.5 Z" fill="#fbfdfb" stroke="none"/>
<line x1="775.1" y1="359.9" x2="789.1" y2="364.5" stroke="#1a1a1a" stroke-width="1.25" />
<line x1="760.9" y1="402.5" x2="774.9" y2="407.2" stroke="#1a1a1a" stroke-width="1.25" />
<ellipse cx="782.0" cy="385.9" rx="5.9" ry="22.5" transform="rotate(18.47 782.0 385.9)" fill="#fbfdfb" stroke="#1a1a1a" stroke-width="1.25"/>
<ellipse cx="781.7" cy="363.7" rx="2.5" ry="1.7" transform="rotate(-25 781.7 363.7)" fill="#fbfdfb" stroke="#1a1a1a" stroke-width="1.1"/>
<ellipse cx="779.0" cy="384.9" rx="7.9" ry="30.5" transform="rotate(18.47 779.0 384.9)" fill="#fbfdfb" stroke="#1a1a1a" stroke-width="1.5"/>
<path d="M788.7 356.0 L791.7 357.0 L772.3 414.8 L769.3 413.8 Z" fill="#fbfdfb" stroke="none"/>
<line x1="788.7" y1="356.0" x2="791.7" y2="357.0" stroke="#1a1a1a" stroke-width="1.5" />
<line x1="769.3" y1="413.8" x2="772.3" y2="414.8" stroke="#1a1a1a" stroke-width="1.5" />
<ellipse cx="782.0" cy="385.9" rx="7.9" ry="30.5" transform="rotate(18.47 782.0 385.9)" fill="#fbfdfb" stroke="#1a1a1a" stroke-width="1.5"/>
<path d="M769.3 413.8 L768.4 413.2 L767.7 412.2 L767.2 410.6 L766.9 408.7 L766.8 406.3 L766.8 403.6 L767.2 400.5 L767.7 397.2 L768.4 393.6 L769.2 389.9 L770.3 386.2 L771.5 382.4 L772.8 378.6 L774.2 375.0 L775.7 371.5 L777.3 368.2 L778.9 365.3 L780.5 362.6 L782.1 360.4 L783.6 358.6 L785.0 357.2 L786.4 356.3 L787.6 355.9 L788.7 356.0" fill="none" stroke="#1a1a1a" stroke-width="3.0" stroke-linecap="round"/>
<path d="M762.2 414.2 L761.0 420.4 L760.5 425.3 L760.6 427.2 L761.5 430.2 L762.3 431.3 L763.5 432.3 L779.2 437.7 L781.9 438.4 L783.4 438.4 L784.8 438.0 L786.8 436.5 L787.7 436.8 L789.0 436.9 L790.4 436.2 L792.0 434.9 L793.7 433.0 L797.3 427.4 L800.9 420.1 L804.1 411.7 L806.6 403.1 L808.1 395.1 L808.5 391.6 L808.6 388.5 L808.4 385.9 L807.9 384.0 L810.7 374.2 L812.2 365.4 L812.3 361.2 L811.9 359.6 L811.4 358.2 L810.6 357.1 L809.4 356.2 L806.7 355.1 L791.0 350.0 L789.4 350.0 L788.1 350.4 L785.6 352.4 L783.1 355.7 L780.5 360.6 L775.9 371.8 L766.3 400.1 L762.2 414.2 Z" fill="#fbfdfb" stroke="#1a1a1a" stroke-width="1.25" stroke-linejoin="round"/>
<path d="M807.9 384.0 L810.7 374.2 L811.9 368.0 L812.3 363.2 L811.9 359.6 L811.4 358.2 L810.6 357.1 L809.4 356.2 L806.7 355.1 L803.9 354.4 L802.4 354.4 L801.1 354.8 L798.6 356.7 L796.1 360.1 L793.5 364.9 L788.9 376.1 L779.3 404.5 L775.2 418.5 L773.7 427.4 L773.6 431.5 L773.9 433.2 L774.5 434.6 L775.3 435.7 L776.5 436.6 L779.2 437.6 L781.9 438.4 L783.4 438.4 L784.8 438.0 L787.0 436.3 L787.7 436.8 L789.0 436.9 L790.4 436.2 L792.0 434.9 L793.7 433.0 L797.3 427.4 L799.1 423.9 L802.6 416.0 L804.1 411.7 L806.6 403.1 L808.1 395.1 L808.5 391.6 L808.6 388.5 L808.4 385.9 L807.9 384.0 Z" fill="#fbfdfb" stroke="#1a1a1a" stroke-width="1.25" stroke-linejoin="round"/>
<path d="M805.5 358.9 L802.7 358.2 L801.3 358.2 L800.1 358.6 L799.0 359.2 L798.0 360.2 L797.0 361.4 L796.0 362.9 L795.0 364.7 L793.8 366.9 L792.6 369.5 L791.3 372.8 L789.8 376.9 L787.8 382.2 L784.1 393.4 L780.4 404.7 L778.7 410.1 L777.5 414.2 L776.6 417.7 L775.9 420.5 L775.5 422.9 L775.2 425.0 L775.2 426.8 L775.2 428.4 L775.5 429.8 L775.9 430.9 L776.7 432.0 L777.8 432.8 L780.4 433.9" fill="none" stroke="#1a1a1a" stroke-width="1.0" />
<line x1="787.2" y1="351.0" x2="800.2" y2="355.4" stroke="#1a1a1a" stroke-width="1.12" />
<line x1="775.4" y1="373.2" x2="788.4" y2="377.5" stroke="#1a1a1a" stroke-width="1.12" />
<line x1="765.9" y1="401.4" x2="778.9" y2="405.8" stroke="#1a1a1a" stroke-width="1.12" />
<line x1="760.7" y1="427.5" x2="773.7" y2="431.9" stroke="#1a1a1a" stroke-width="1.12" />
<line x1="766.2" y1="433.3" x2="779.2" y2="437.6" stroke="#1a1a1a" stroke-width="1.12" />
<ellipse cx="796.9" cy="409.3" rx="7.0" ry="27.0" transform="rotate(18.47 796.9 409.3)" fill="#fbfdfb" stroke="#1a1a1a" stroke-width="1.5"/>
<path d="M805.5 383.7 L808.0 384.5 L790.9 435.8 L788.4 434.9 Z" fill="#fbfdfb" stroke="none"/>
<line x1="805.5" y1="383.7" x2="808.0" y2="384.5" stroke="#1a1a1a" stroke-width="1.5" />
<line x1="788.4" y1="434.9" x2="790.9" y2="435.8" stroke="#1a1a1a" stroke-width="1.5" />
<ellipse cx="799.4" cy="410.2" rx="7.0" ry="27.0" transform="rotate(18.47 799.4 410.2)" fill="#fbfdfb" stroke="#1a1a1a" stroke-width="1.5"/>
<ellipse cx="799.4" cy="410.2" rx="5.6" ry="21.5" transform="rotate(18.47 799.4 410.2)" fill="#fbfdfb" stroke="#1a1a1a" stroke-width="1.25"/>
<path d="M806.2 389.8 L828.7 397.3 L815.1 438.1 L792.6 430.5 Z" fill="#fbfdfb" stroke="none"/>
<line x1="806.2" y1="389.8" x2="828.7" y2="397.3" stroke="#1a1a1a" stroke-width="1.25" />
<line x1="792.6" y1="430.5" x2="815.1" y2="438.1" stroke="#1a1a1a" stroke-width="1.25" />
<ellipse cx="821.9" cy="417.7" rx="5.6" ry="21.5" transform="rotate(18.47 821.9 417.7)" fill="#fbfdfb" stroke="#1a1a1a" stroke-width="1.25"/>
<ellipse cx="809.0" cy="396.4" rx="2.4" ry="1.6" transform="rotate(-25 809.0 396.4)" fill="#fbfdfb" stroke="#1a1a1a" stroke-width="1.1"/>
<ellipse cx="819.4" cy="416.8" rx="7.0" ry="27.0" transform="rotate(18.47 819.4 416.8)" fill="#fbfdfb" stroke="#1a1a1a" stroke-width="1.5"/>
<path d="M828.0 391.2 L830.5 392.1 L813.4 443.3 L810.9 442.4 Z" fill="#fbfdfb" stroke="none"/>
<line x1="828.0" y1="391.2" x2="830.5" y2="392.1" stroke="#1a1a1a" stroke-width="1.5" />
<line x1="810.9" y1="442.4" x2="813.4" y2="443.3" stroke="#1a1a1a" stroke-width="1.5" />
<ellipse cx="821.9" cy="417.7" rx="7.0" ry="27.0" transform="rotate(18.47 821.9 417.7)" fill="#fbfdfb" stroke="#1a1a1a" stroke-width="1.5"/>
<path d="M810.9 442.4 L810.1 441.9 L809.4 441.0 L809.0 439.6 L808.7 437.9 L808.6 435.8 L808.7 433.4 L808.9 430.7 L809.4 427.7 L810.0 424.6 L810.8 421.3 L811.7 418.0 L812.8 414.6 L813.9 411.3 L815.2 408.1 L816.6 405.0 L817.9 402.1 L819.4 399.5 L820.8 397.2 L822.2 395.2 L823.5 393.5 L824.8 392.3 L826.0 391.5 L827.0 391.2 L828.0 391.2" fill="none" stroke="#1a1a1a" stroke-width="3.0" stroke-linecap="round"/>
<path d="M811.3 416.2 L808.7 428.1 L807.8 435.3 L807.8 441.0 L808.1 443.3 L808.7 445.3 L809.5 446.8 L810.5 447.9 L812.0 448.6 L825.0 453.0 L826.7 453.3 L828.2 453.0 L829.0 452.7 L831.9 444.1 L835.3 438.9 L838.6 432.0 L840.2 428.2 L842.9 420.2 L843.9 416.2 L845.4 408.8 L845.8 402.5 L855.6 373.1 L855.2 372.3 L854.1 371.2 L852.6 370.4 L839.6 366.1 L838.0 365.8 L836.4 366.0 L834.9 366.8 L833.3 368.0 L831.6 369.6 L829.9 371.7 L826.8 376.4 L825.1 377.7 L822.2 381.4 L820.7 383.9 L817.7 390.0 L815.1 396.9 L813.0 404.1 L811.7 410.7 L811.3 416.2 Z" fill="#fbfdfb" stroke="#1a1a1a" stroke-width="1.25" stroke-linejoin="round"/>
<path d="M839.8 380.8 L838.1 382.1 L835.2 385.8 L833.7 388.3 L830.7 394.3 L829.3 397.7 L827.0 404.9 L825.3 411.8 L824.4 417.9 L824.4 420.8 L822.5 428.4 L821.1 436.2 L820.7 442.7 L821.1 447.7 L821.7 449.6 L822.5 451.1 L823.5 452.2 L825.1 453.0 L826.7 453.3 L828.2 453.0 L829.0 452.7 L831.8 444.1 L835.3 438.9 L838.6 432.0 L840.2 428.2 L842.8 420.2 L844.7 412.4 L845.7 405.5 L845.8 402.5 L855.6 373.1 L855.2 372.3 L854.1 371.2 L852.6 370.5 L851.0 370.2 L849.4 370.4 L847.9 371.1 L846.3 372.3 L844.6 374.0 L842.9 376.1 L839.8 380.8 Z" fill="#fbfdfb" stroke="#1a1a1a" stroke-width="1.25" stroke-linejoin="round"/>
<path d="M848.4 374.2 L847.0 374.9 L845.5 375.9 L844.0 377.4 L842.5 379.3 L841.0 381.5 L839.8 383.5 L839.6 383.8 L839.4 384.0 L839.3 384.2 L839.1 384.4 L839.0 384.5 L838.8 384.5 L838.5 384.7 L837.4 385.6 L836.2 386.9 L835.0 388.7 L833.7 390.8 L832.5 393.2 L831.3 395.8 L830.1 398.7 L829.1 401.6 L828.1 404.6 L827.3 407.5 L826.7 410.4 L826.3 413.1 L826.0 415.5 L826.0 417.6 L826.0 417.7 L826.0 417.9 L826.0 418.2 L826.0 418.5 L825.9 418.8 L825.9 419.1 L825.8 419.5 L825.7 419.8 L825.6 420.2 L824.8 423.3 L823.9 427.2 L823.2 430.9 L822.7 434.2 L822.4 437.2 L822.3 439.9 L822.4 442.3 L822.7 444.3 L823.2 446.1 L823.9 447.4" fill="none" stroke="#1a1a1a" stroke-width="1.0" />
<line x1="832.4" y1="368.9" x2="845.4" y2="373.2" stroke="#1a1a1a" stroke-width="1.12" />
<line x1="821.3" y1="382.8" x2="834.3" y2="387.1" stroke="#1a1a1a" stroke-width="1.12" />
<line x1="811.2" y1="417.1" x2="824.2" y2="421.5" stroke="#1a1a1a" stroke-width="1.12" />
<line x1="807.8" y1="440.7" x2="820.8" y2="445.1" stroke="#1a1a1a" stroke-width="1.12" />
<line x1="811.6" y1="448.4" x2="824.6" y2="452.7" stroke="#1a1a1a" stroke-width="1.12" />
<ellipse cx="833.0" cy="402.9" rx="7.9" ry="30.5" transform="rotate(18.47 833.0 402.9)" fill="#fbfdfb" stroke="#1a1a1a" stroke-width="1.5"/>
<path d="M842.7 374.0 L845.7 375.0 L826.3 432.8 L823.3 431.8 Z" fill="#fbfdfb" stroke="none"/>
<line x1="842.7" y1="374.0" x2="845.7" y2="375.0" stroke="#1a1a1a" stroke-width="1.5" />
<line x1="823.3" y1="431.8" x2="826.3" y2="432.8" stroke="#1a1a1a" stroke-width="1.5" />
<ellipse cx="836.0" cy="403.9" rx="7.9" ry="30.5" transform="rotate(18.47 836.0 403.9)" fill="#fbfdfb" stroke="#1a1a1a" stroke-width="1.5"/>
<ellipse cx="836.0" cy="403.9" rx="5.9" ry="22.5" transform="rotate(18.47 836.0 403.9)" fill="#fbfdfb" stroke="#1a1a1a" stroke-width="1.25"/>
<path d="M843.1 382.6 L857.1 387.3 L842.9 429.9 L828.9 425.3 Z" fill="#fbfdfb" stroke="none"/>
<line x1="843.1" y1="382.6" x2="857.1" y2="387.3" stroke="#1a1a1a" stroke-width="1.25" />
<line x1="828.9" y1="425.3" x2="842.9" y2="429.9" stroke="#1a1a1a" stroke-width="1.25" />
<ellipse cx="850.0" cy="408.6" rx="5.9" ry="22.5" transform="rotate(18.47 850.0 408.6)" fill="#fbfdfb" stroke="#1a1a1a" stroke-width="1.25"/>
<ellipse cx="849.7" cy="386.4" rx="2.5" ry="1.7" transform="rotate(-25 849.7 386.4)" fill="#fbfdfb" stroke="#1a1a1a" stroke-width="1.1"/>
<ellipse cx="847.0" cy="407.6" rx="7.9" ry="30.5" transform="rotate(18.47 847.0 407.6)" fill="#fbfdfb" stroke="#1a1a1a" stroke-width="1.5"/>
<path d="M856.7 378.7 L859.7 379.7 L840.3 437.5 L837.3 436.5 Z" fill="#fbfdfb" stroke="none"/>
<line x1="856.7" y1="378.7" x2="859.7" y2="379.7" stroke="#1a1a1a" stroke-width="1.5" />
<line x1="837.3" y1="436.5" x2="840.3" y2="437.5" stroke="#1a1a1a" stroke-width="1.5" />
<ellipse cx="850.0" cy="408.6" rx="7.9" ry="30.5" transform="rotate(18.47 850.0 408.6)" fill="#fbfdfb" stroke="#1a1a1a" stroke-width="1.5"/>
<path d="M837.3 436.5 L836.4 435.9 L835.7 434.9 L835.2 433.4 L834.9 431.4 L834.8 429.0 L834.8 426.3 L835.2 423.2 L835.7 419.9 L836.4 416.3 L837.2 412.7 L838.3 408.9 L839.5 405.1 L840.8 401.3 L842.2 397.7 L843.7 394.2 L845.3 391.0 L846.9 388.0 L848.5 385.4 L850.1 383.1 L851.6 381.3 L853.0 379.9 L854.4 379.0 L855.6 378.6 L856.7 378.7" fill="none" stroke="#1a1a1a" stroke-width="3.0" stroke-linecap="round"/>
<path d="M830.2 437.1 L828.4 444.5 L827.1 453.2 L827.2 457.6 L827.6 459.3 L828.1 460.8 L828.9 462.0 L829.9 462.9 L831.6 463.6 L844.6 468.0 L846.4 468.4 L847.8 468.3 L849.1 467.8 L850.4 467.0 L851.8 465.8 L854.5 462.4 L858.7 454.7 L863.2 443.3 L868.8 426.1 L871.3 415.5 L872.0 410.0 L871.9 406.4 L880.4 381.8 L882.6 374.3 L883.4 370.6 L884.3 364.1 L884.2 359.1 L883.7 357.4 L883.1 356.2 L882.2 355.5 L869.2 351.2 L868.1 351.2 L866.8 351.7 L865.4 352.9 L862.3 356.8 L859.1 362.5 L856.1 369.5 L846.8 398.0 L844.6 400.9 L841.8 405.7 L837.4 415.6 L833.6 426.3 L830.2 437.1 Z" fill="#fbfdfb" stroke="#1a1a1a" stroke-width="1.25" stroke-linejoin="round"/>
<path d="M859.9 402.3 L856.2 407.5 L854.8 410.0 L850.4 420.0 L844.6 437.0 L842.2 445.4 L840.8 452.1 L840.3 455.0 L840.1 459.9 L840.6 463.7 L841.1 465.1 L841.9 466.3 L842.9 467.2 L844.6 467.9 L846.4 468.4 L847.8 468.3 L849.1 467.8 L850.4 467.0 L853.1 464.2 L855.9 460.1 L858.7 454.7 L861.6 447.6 L867.5 430.6 L869.9 422.2 L871.3 415.5 L871.9 410.0 L871.9 406.4 L880.4 381.8 L881.6 378.0 L883.4 370.6 L884.2 364.1 L884.1 359.1 L883.7 357.4 L883.1 356.2 L882.2 355.6 L881.1 355.5 L879.8 356.1 L878.4 357.2 L875.4 361.2 L872.2 366.9 L870.6 370.3 L867.8 377.6 L859.9 402.3 Z" fill="#fbfdfb" stroke="#1a1a1a" stroke-width="1.25" stroke-linejoin="round"/>
<path d="M858.5 406.7 L857.3 408.2 L856.2 410.1 L855.0 412.3 L853.8 414.8 L852.5 417.6 L851.2 421.0 L849.7 425.0 L847.6 431.0 L845.7 437.1 L844.4 441.2 L843.5 444.6 L842.8 447.7 L842.3 450.4 L841.9 452.8 L841.7 455.0 L841.7 457.0 L841.8 458.7 L842.1 460.2 L842.6 461.5 L843.3 462.6 L844.3 463.4 L845.9 464.2" fill="none" stroke="#1a1a1a" stroke-width="1.0" />
<path d="M881.6 359.9 L880.9 359.4 L880.0 359.3 L878.9 359.8 L877.7 360.8 L876.5 362.2 L875.2 364.1 L873.8 366.3 L872.5 368.9 L871.2 371.8 L869.9 374.8 L868.8 378.0 L860.9 402.5 L860.8 402.9 L860.6 403.2 L860.5 403.6 L860.4 403.9 L860.2 404.2 L860.1 404.6 L859.9 404.8 L859.7 405.1 L859.6 405.3 L859.4 405.6 L859.3 405.7 L858.5 406.7" fill="none" stroke="#1a1a1a" stroke-width="1.0" />
<line x1="827.1" y1="453.0" x2="840.1" y2="457.3" stroke="#1a1a1a" stroke-width="1.12" />
<line x1="834.3" y1="424.5" x2="847.3" y2="428.9" stroke="#1a1a1a" stroke-width="1.12" />
<line x1="844.0" y1="401.9" x2="857.0" y2="406.2" stroke="#1a1a1a" stroke-width="1.12" />
<line x1="829.4" y1="462.4" x2="842.4" y2="466.7" stroke="#1a1a1a" stroke-width="1.12" />
<ellipse cx="874.1" cy="379.7" rx="7.0" ry="27.0" transform="rotate(18.47 874.1 379.7)" fill="#fbfdfb" stroke="#1a1a1a" stroke-width="1.5"/>
<path d="M882.6 354.1 L885.1 355.0 L868.0 406.2 L865.5 405.3 Z" fill="#fbfdfb" stroke="none"/>
<line x1="882.6" y1="354.1" x2="885.1" y2="355.0" stroke="#1a1a1a" stroke-width="1.5" />
<line x1="865.5" y1="405.3" x2="868.0" y2="406.2" stroke="#1a1a1a" stroke-width="1.5" />
<ellipse cx="876.6" cy="380.6" rx="7.0" ry="27.0" transform="rotate(18.47 876.6 380.6)" fill="#fbfdfb" stroke="#1a1a1a" stroke-width="1.5"/>
<ellipse cx="876.6" cy="380.6" rx="5.6" ry="21.5" transform="rotate(18.47 876.6 380.6)" fill="#fbfdfb" stroke="#1a1a1a" stroke-width="1.25"/>
<path d="M883.4 360.2 L905.9 367.7 L892.3 408.5 L869.8 401.0 Z" fill="#fbfdfb" stroke="none"/>
<line x1="883.4" y1="360.2" x2="905.9" y2="367.7" stroke="#1a1a1a" stroke-width="1.25" />
<line x1="869.8" y1="401.0" x2="892.3" y2="408.5" stroke="#1a1a1a" stroke-width="1.25" />
<ellipse cx="899.1" cy="388.1" rx="5.6" ry="21.5" transform="rotate(18.47 899.1 388.1)" fill="#fbfdfb" stroke="#1a1a1a" stroke-width="1.25"/>
<ellipse cx="886.2" cy="366.8" rx="3.4" ry="2.3" transform="rotate(-25 886.2 366.8)" fill="#fbfdfb" stroke="#1a1a1a" stroke-width="1.1"/>
<ellipse cx="896.6" cy="387.3" rx="7.0" ry="27.0" transform="rotate(18.47 896.6 387.3)" fill="#fbfdfb" stroke="#1a1a1a" stroke-width="1.5"/>
<path d="M905.1 361.6 L907.6 362.5 L890.5 413.7 L888.0 412.9 Z" fill="#fbfdfb" stroke="none"/>
<line x1="905.1" y1="361.6" x2="907.6" y2="362.5" stroke="#1a1a1a" stroke-width="1.5" />
<line x1="888.0" y1="412.9" x2="890.5" y2="413.7" stroke="#1a1a1a" stroke-width="1.5" />
<ellipse cx="899.1" cy="388.1" rx="7.0" ry="27.0" transform="rotate(18.47 899.1 388.1)" fill="#fbfdfb" stroke="#1a1a1a" stroke-width="1.5"/>
<path d="M888.0 412.9 L887.2 412.4 L886.6 411.4 L886.1 410.1 L885.9 408.3 L885.7 406.2 L885.8 403.8 L886.1 401.1 L886.5 398.1 L887.2 395.0 L887.9 391.7 L888.9 388.4 L889.9 385.0 L891.1 381.7 L892.4 378.5 L893.7 375.4 L895.1 372.5 L896.5 369.9 L897.9 367.6 L899.3 365.6 L900.7 364.0 L901.9 362.7 L903.1 361.9 L904.2 361.6 L905.1 361.6" fill="none" stroke="#1a1a1a" stroke-width="3.0" stroke-linecap="round"/>
<path d="M868.2 449.8 L866.4 457.2 L865.1 465.9 L865.2 470.3 L865.6 472.0 L866.1 473.5 L866.9 474.7 L867.9 475.6 L869.6 476.3 L882.6 480.7 L884.4 481.1 L885.8 481.0 L887.1 480.5 L888.4 479.7 L889.8 478.5 L892.5 475.1 L896.7 467.4 L901.2 456.0 L906.8 438.8 L909.3 428.2 L910.0 422.7 L909.9 419.1 L918.4 394.5 L920.6 387.0 L921.4 383.3 L922.3 376.8 L922.2 371.8 L921.7 370.1 L921.1 368.9 L920.2 368.2 L907.2 363.9 L906.1 363.9 L904.8 364.4 L903.4 365.6 L900.3 369.5 L897.1 375.2 L894.1 382.2 L884.8 410.7 L882.6 413.6 L879.8 418.4 L875.4 428.3 L871.6 439.0 L868.2 449.8 Z" fill="#fbfdfb" stroke="#1a1a1a" stroke-width="1.25" stroke-linejoin="round"/>
<path d="M897.9 415.0 L894.2 420.2 L892.8 422.7 L888.4 432.7 L882.6 449.7 L880.2 458.1 L878.8 464.8 L878.3 467.6 L878.1 472.6 L878.6 476.4 L879.1 477.8 L879.9 479.0 L880.9 479.9 L882.6 480.6 L884.4 481.1 L885.8 481.0 L887.1 480.5 L888.4 479.7 L891.1 476.9 L893.9 472.8 L896.7 467.3 L899.6 460.3 L905.5 443.3 L907.9 434.9 L909.3 428.2 L909.9 422.7 L909.9 419.1 L918.4 394.5 L919.6 390.7 L921.4 383.3 L922.2 376.8 L922.1 371.8 L921.7 370.1 L921.1 368.9 L920.2 368.2 L919.1 368.2 L917.8 368.8 L916.4 369.9 L913.4 373.8 L910.2 379.6 L908.6 383.0 L905.8 390.3 L897.9 415.0 Z" fill="#fbfdfb" stroke="#1a1a1a" stroke-width="1.25" stroke-linejoin="round"/>
<path d="M896.5 419.3 L895.3 420.9 L894.2 422.8 L893.0 425.0 L891.8 427.4 L890.5 430.3 L889.2 433.6 L887.7 437.6 L885.6 443.7 L883.7 449.8 L882.4 453.9 L881.5 457.3 L880.8 460.4 L880.3 463.1 L879.9 465.5 L879.7 467.7 L879.7 469.7 L879.8 471.4 L880.1 472.9 L880.6 474.2 L881.3 475.3 L882.3 476.1 L883.9 476.8" fill="none" stroke="#1a1a1a" stroke-width="1.0" />
<path d="M919.6 372.6 L918.9 372.1 L918.0 372.0 L916.9 372.5 L915.7 373.5 L914.5 374.9 L913.2 376.8 L911.8 379.0 L910.5 381.6 L909.2 384.5 L907.9 387.5 L906.8 390.7 L898.9 415.2 L898.8 415.6 L898.6 415.9 L898.5 416.3 L898.4 416.6 L898.2 416.9 L898.1 417.2 L897.9 417.5 L897.7 417.8 L897.6 418.0 L897.4 418.2 L897.3 418.4 L896.5 419.3" fill="none" stroke="#1a1a1a" stroke-width="1.0" />
<line x1="865.1" y1="465.7" x2="878.1" y2="470.0" stroke="#1a1a1a" stroke-width="1.12" />
<line x1="872.3" y1="437.2" x2="885.3" y2="441.6" stroke="#1a1a1a" stroke-width="1.12" />
<line x1="882.0" y1="414.6" x2="895.0" y2="418.9" stroke="#1a1a1a" stroke-width="1.12" />
<line x1="867.4" y1="475.1" x2="880.4" y2="479.4" stroke="#1a1a1a" stroke-width="1.12" />
<ellipse cx="901.0" cy="425.6" rx="7.9" ry="30.5" transform="rotate(18.47 901.0 425.6)" fill="#fbfdfb" stroke="#1a1a1a" stroke-width="1.5"/>
<path d="M910.7 396.7 L913.7 397.7 L894.3 455.6 L891.3 454.6 Z" fill="#fbfdfb" stroke="none"/>
<line x1="910.7" y1="396.7" x2="913.7" y2="397.7" stroke="#1a1a1a" stroke-width="1.5" />
<line x1="891.3" y1="454.6" x2="894.3" y2="455.6" stroke="#1a1a1a" stroke-width="1.5" />
<ellipse cx="904.0" cy="426.6" rx="7.9" ry="30.5" transform="rotate(18.47 904.0 426.6)" fill="#fbfdfb" stroke="#1a1a1a" stroke-width="1.5"/>
<ellipse cx="904.0" cy="426.6" rx="5.9" ry="22.5" transform="rotate(18.47 904.0 426.6)" fill="#fbfdfb" stroke="#1a1a1a" stroke-width="1.25"/>
<path d="M911.1 405.3 L927.1 410.6 L912.9 453.3 L896.9 448.0 Z" fill="#fbfdfb" stroke="none"/>
<line x1="911.1" y1="405.3" x2="927.1" y2="410.6" stroke="#1a1a1a" stroke-width="1.25" />
<line x1="896.9" y1="448.0" x2="912.9" y2="453.3" stroke="#1a1a1a" stroke-width="1.25" />
<ellipse cx="920.0" cy="432.0" rx="5.9" ry="22.5" transform="rotate(18.47 920.0 432.0)" fill="#fbfdfb" stroke="#1a1a1a" stroke-width="1.25"/>
<ellipse cx="917.7" cy="409.1" rx="2.5" ry="1.7" transform="rotate(-25 917.7 409.1)" fill="#fbfdfb" stroke="#1a1a1a" stroke-width="1.1"/>
<ellipse cx="920.0" cy="432.0" rx="10.2" ry="39.2" transform="rotate(18.47 920.0 432.0)" fill="#fbfdfb" stroke="#1a1a1a" stroke-width="1.5"/>
<path d="M932.4 394.8 L951.4 401.1 L926.6 475.5 L907.6 469.2 Z" fill="#fbfdfb" stroke="none"/>
<line x1="932.4" y1="394.8" x2="951.4" y2="401.1" stroke="#1a1a1a" stroke-width="1.5" />
<line x1="907.6" y1="469.2" x2="926.6" y2="475.5" stroke="#1a1a1a" stroke-width="1.5" />
<ellipse cx="939.0" cy="438.3" rx="10.2" ry="39.2" transform="rotate(18.47 939.0 438.3)" fill="#fbfdfb" stroke="#1a1a1a" stroke-width="1.5"/>
<path d="M909.1 469.7 L907.9 468.9 L907.0 467.6 L906.3 465.6 L905.9 463.1 L905.8 460.0 L905.9 456.5 L906.3 452.5 L906.9 448.3 L907.8 443.7 L908.9 439.0 L910.3 434.1 L911.8 429.2 L913.5 424.4 L915.4 419.7 L917.3 415.3 L919.3 411.1 L921.4 407.3 L923.4 403.9 L925.5 401.0 L927.4 398.7 L929.3 396.9 L931.0 395.7 L932.6 395.2 L933.9 395.3" fill="none" stroke="#1a1a1a" stroke-width="4.38" stroke-linecap="round"/>
<ellipse cx="939.0" cy="438.3" rx="8.6" ry="33.0" transform="rotate(18.47 939.0 438.3)" fill="none" stroke="#1a1a1a" stroke-width="1.0" />
<ellipse cx="939.0" cy="438.3" rx="3.9" ry="15.0" transform="rotate(18.47 939.0 438.3)" fill="#fbfdfb" stroke="#1a1a1a" stroke-width="1.25" />
<path d="M940.8 425.4 L941.0 425.9 L941.2 426.5 L941.3 427.2 L941.4 428.1 L941.4 429.1 L941.3 430.3 L941.1 431.5 L940.9 432.8 L940.6 434.2 L940.2 435.6 L939.8 437.0 L939.4 438.4 L938.9 439.9 L938.3 441.3 L937.8 442.6 L937.2 443.9 L936.6 445.0 L936.0 446.1 L935.4 447.1 L934.8 447.9 L934.2 448.6 L933.6 449.1 L933.1 449.5 L932.7 449.7" fill="none" stroke="#1a1a1a" stroke-width="1.25" stroke-linecap="round"/>
<ellipse cx="948.6" cy="416.7" rx="1.2" ry="2.6" transform="rotate(18.47 948.6 416.7)" fill="#222" stroke="#1a1a1a" stroke-width="0.75" />
<ellipse cx="947.9" cy="430.2" rx="1.2" ry="2.6" transform="rotate(18.47 947.9 430.2)" fill="#222" stroke="#1a1a1a" stroke-width="0.75" />
<ellipse cx="942.1" cy="448.4" rx="1.2" ry="2.6" transform="rotate(18.47 942.1 448.4)" fill="#222" stroke="#1a1a1a" stroke-width="0.75" />
<ellipse cx="934.4" cy="460.7" rx="1.2" ry="2.6" transform="rotate(18.47 934.4 460.7)" fill="#222" stroke="#1a1a1a" stroke-width="0.75" />
<ellipse cx="929.4" cy="459.9" rx="1.2" ry="2.6" transform="rotate(18.47 929.4 459.9)" fill="#222" stroke="#1a1a1a" stroke-width="0.75" />
<ellipse cx="930.1" cy="446.5" rx="1.2" ry="2.6" transform="rotate(18.47 930.1 446.5)" fill="#222" stroke="#1a1a1a" stroke-width="0.75" />
<ellipse cx="935.9" cy="428.3" rx="1.2" ry="2.6" transform="rotate(18.47 935.9 428.3)" fill="#222" stroke="#1a1a1a" stroke-width="0.75" />
<ellipse cx="943.6" cy="416.0" rx="1.2" ry="2.6" transform="rotate(18.47 943.6 416.0)" fill="#222" stroke="#1a1a1a" stroke-width="0.75" />
<line x1="462.0" y1="279.0" x2="962.0" y2="446.0" stroke="#1a1a1a" stroke-width="1.12" />
<path d="M702.7 292.3 C705 280 712 264 720.8 260.4 C723 260 725 263 725.2 266.5 L737.3 272 C733 282 729 292 726.3 300 Z" fill="#fbfdfb" stroke="#1a1a1a" stroke-width="1.38" />
<path d="M703.6 291.8 C706 279 713 264.8 720.6 261.4" fill="none" stroke="#1a1a1a" stroke-width="3.5" />
<path d="M707 292 C709.5 281 715.5 269 722.5 265.5" fill="none" stroke="#1a1a1a" stroke-width="1.12" />
<path d="M726.3 300 C728 290 732 279 737.3 272" fill="none" stroke="#1a1a1a" stroke-width="3.25" />
<path d="M731.3 294 C733 283 738 270 743.4 268.1 C746 268.5 747 271 746.6 274 C746.5 283 745 292 743.4 297.3 L733.5 294.8 Z" fill="#fbfdfb" stroke="#1a1a1a" stroke-width="1.62" />
<path d="M736 294.5 C737.5 285 740.5 275.5 743.5 272.5 C744.5 277 744 288 742 296" fill="none" stroke="#1a1a1a" stroke-width="1.25" />
<ellipse cx="724.1" cy="276.9" rx="2.1" ry="1.6" fill="#222"/>
<path d="M781.4 315.8 C784 305 788 295 793.8 291.1 L805.3 293.5 C808.5 293.5 811.5 296 811.9 300.5 C811.5 307 810 313 808.6 318.3 L797.9 315 L794.6 320.7 Z" fill="#fbfdfb" stroke="#1a1a1a" stroke-width="1.38" />
<path d="M794.6 320.7 C796 311 800 300 805.3 294.5" fill="none" stroke="#1a1a1a" stroke-width="2.0" />
<path d="M798.5 315 C800 307 803 299.5 806.5 297 C808.5 299 808.5 309 807 317" fill="none" stroke="#1a1a1a" stroke-width="2.5" />
<ellipse cx="795.8" cy="298.5" rx="1.9" ry="1.5" fill="#222"/>
<path d="M674.3 432.2 L684 435 L697.7 438.7 C697 449 693 461 687.9 466.6 C685.5 469.5 682.5 471 680.1 470.5 C677.5 469.5 676 467.5 676.2 465.3 L676.9 452 Z" fill="#fbfdfb" stroke="#1a1a1a" stroke-width="1.62" />
<path d="M684 437.5 C683.5 447 681 458 679.5 466 C682 467.5 685 466 687 463 C691 457 694.5 448 695.5 440.5" fill="none" stroke="#1a1a1a" stroke-width="2.25" />
<path d="M674.3 432.2 L673.6 436.5 L683.2 439.3 L684 435" fill="none" stroke="#1a1a1a" stroke-width="1.25" />
<path d="M659.3 434.1 C656.5 438 654.6 443 654.8 448.4 C654.8 455 656 460.5 658 463.4 L676.9 464 C679 457 681.5 448 682.7 441.3 Z" fill="#fbfdfb" stroke="#1a1a1a" stroke-width="1.38" />
<path d="M660 434.3 C657 439 655.4 444 655.6 448.4 C655.8 455 657 461 659.3 463.2 C661 464 662 463 663 462" fill="none" stroke="#1a1a1a" stroke-width="3.5" />
<path d="M663.5 436 C660.5 441 659.5 446 659.8 450 C660 454 661 458 662.3 459.5" fill="none" stroke="#1a1a1a" stroke-width="1.25" />
<path d="M676.9 464 C679 457 681.5 448 682.7 441.3" fill="none" stroke="#1a1a1a" stroke-width="2.5" />
<path d="M749 459.5 L762.7 463.4 C761.5 472 758.5 479 754.2 483.5 C752.5 486.5 751 488.5 749 489.4 L747.7 488.7 Z" fill="#fbfdfb" stroke="#1a1a1a" stroke-width="1.38" />
<path d="M751.7 460.3 L751.2 462.6 L755.3 463.8 L755.6 461.4" fill="none" stroke="#1a1a1a" stroke-width="1.12" />
<path d="M736 460.8 L749 465.3 C749.5 473 748.8 481 747.7 488.7 L734.7 482.2 C733 478.5 732.5 476 732.8 474.4 C733 469 734.3 464 736 460.8 Z" fill="#fbfdfb" stroke="#1a1a1a" stroke-width="1.38" />
<path d="M749 465.3 C749.5 473 748.8 481 747.7 488.7" fill="none" stroke="#1a1a1a" stroke-width="2.0" />
<line x1="961.4" y1="418.8" x2="990.1" y2="428.8" stroke="#1a1a1a" stroke-width="1.25" />
<path d="M969.5 418.2 L979.0 421.3 L977.0 427.4 L967.5 424.2 Z" fill="#fbfdfb" stroke="#1a1a1a" stroke-width="1.25" />
<ellipse cx="978.0" cy="424.4" rx="1.1" ry="3.2" transform="rotate(18.47 978.0 424.4)" fill="#fbfdfb" stroke="#1a1a1a" stroke-width="1.25" />
<ellipse cx="968.5" cy="421.2" rx="1.3" ry="3.2" transform="rotate(18.47 968.5 421.2)" fill="#fbfdfb" stroke="#1a1a1a" stroke-width="1.5" />
<ellipse cx="978.0" cy="424.3" rx="1.3" ry="3.2" transform="rotate(18.47 978.0 424.3)" fill="#444" stroke="#1a1a1a" stroke-width="2.0" />
<line x1="463.0" y1="262.5" x2="483.0" y2="269.5" stroke="#1a1a1a" stroke-width="1.25" />
<path d="M470.5 264.2 L476 266 L476.6 267.8 L471 266 Z" fill="#222" stroke="#1a1a1a" stroke-width="1.25" />
<path d="M983 8.6 l1.2 -0.8 M985.5 7.6 l0.8 0 M990 8.3 l3 0 M995 8.3 l4 0" stroke="#333" stroke-width="1.2" fill="none"/>
</svg>
</body></html>
